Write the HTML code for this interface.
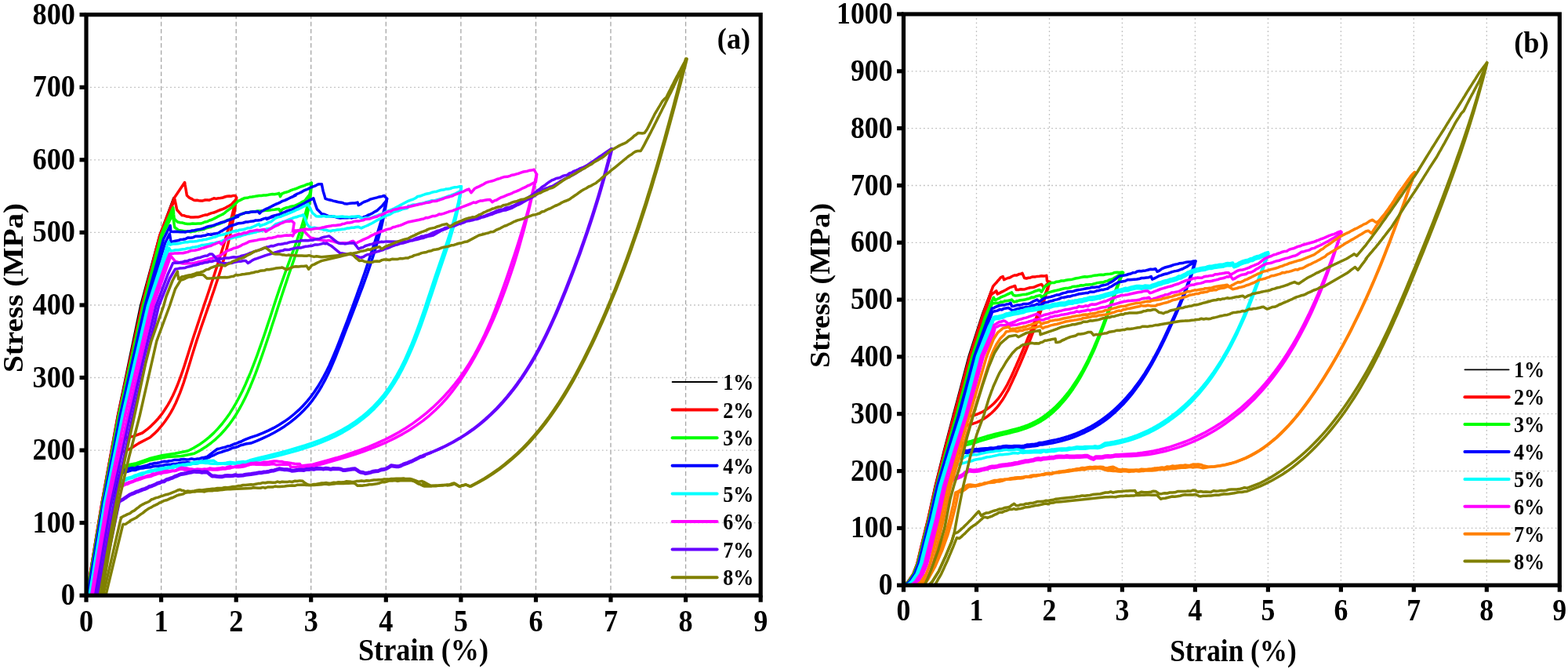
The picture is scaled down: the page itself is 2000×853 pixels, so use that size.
<!DOCTYPE html>
<html lang="en"><head><meta charset="utf-8"><title>Stress-strain curves</title>
<style>html,body{margin:0;padding:0;background:#fff}body{width:2000px;height:853px;overflow:hidden}svg{display:block}</style>
</head><body>
<svg width="2000" height="853" viewBox="0 0 2000 853" role="img" aria-label="Cyclic stress-strain curves, panels (a) and (b)">
<rect width="2000" height="853" fill="#fff"/>
<g stroke="#a6a6a6" stroke-width="1.3" stroke-dasharray="5.6 3.5" fill="none"><line x1="205.6" y1="18.7" x2="205.6" y2="759.2"/><line x1="301.2" y1="18.7" x2="301.2" y2="759.2"/><line x1="396.7" y1="18.7" x2="396.7" y2="759.2"/><line x1="492.3" y1="18.7" x2="492.3" y2="759.2"/><line x1="587.9" y1="18.7" x2="587.9" y2="759.2"/><line x1="683.5" y1="18.7" x2="683.5" y2="759.2"/><line x1="779.0" y1="18.7" x2="779.0" y2="759.2"/><line x1="874.6" y1="18.7" x2="874.6" y2="759.2"/></g>
<g stroke="#bcbcbc" stroke-width="1.3" stroke-dasharray="1.7 3.4" fill="none"><line x1="110.0" y1="666.6" x2="970.2" y2="666.6"/><line x1="110.0" y1="574.1" x2="970.2" y2="574.1"/><line x1="110.0" y1="481.5" x2="970.2" y2="481.5"/><line x1="110.0" y1="389.0" x2="970.2" y2="389.0"/><line x1="110.0" y1="296.4" x2="970.2" y2="296.4"/><line x1="110.0" y1="203.8" x2="970.2" y2="203.8"/><line x1="110.0" y1="111.3" x2="970.2" y2="111.3"/></g>
<clipPath id="clipa"><rect x="110.0" y="18.7" width="860.2" height="742.5"/></clipPath>
<g clip-path="url(#clipa)">
<polyline points="109.6,759.2 119.4,700.0 129.3,640.0 139.4,585.0 149.4,530.0 164.0,460.0 178.6,390.0 203.0,300.0 215.0,268.0 221.0,252.0" fill="none" stroke="#000000" stroke-width="1.6" stroke-linejoin="round" stroke-linecap="round"/>
<polyline points="110.5,759.2 120.3,700.0 130.3,640.0 140.4,585.0 150.5,530.0 165.7,460.0 180.8,390.0 203.8,300.0 213.5,275.0 222.5,252.0 235.6,232.6 236.1,236.0 236.7,239.3 237.3,242.6 237.8,245.9 238.4,249.2 240.1,250.8 241.9,252.3 244.2,253.3 246.6,254.9 248.9,255.6 251.3,255.3 253.6,255.8 256.0,256.0 258.8,255.9 261.6,255.0 264.4,254.9 267.2,255.2 270.0,254.0 272.8,252.8 275.7,253.4 278.5,252.8 281.3,252.5 284.1,252.0 286.9,251.0 289.7,250.3 292.5,249.9 295.1,250.2 297.7,249.4 300.3,249.5 301.8,252.3 301.0,254.0 299.4,260.7 297.8,267.4 296.1,274.1 294.3,280.8 292.5,287.5 290.6,294.1 288.7,300.8 286.8,307.4 284.8,314.0 282.7,320.7 280.7,327.3 278.6,333.9 276.5,340.5 274.3,347.1 272.2,353.7 270.0,360.3 267.8,366.9 265.6,373.5 263.4,380.0 261.1,386.6 258.9,393.2 256.7,399.8 254.5,406.5 252.3,413.1 250.1,419.7 247.9,426.3 245.7,433.0 243.6,439.6 241.5,446.3 239.4,453.0 237.3,459.6 235.2,466.3 233.0,472.9 230.7,479.4 228.3,485.9 225.8,492.3 223.1,498.6 220.3,504.8 217.2,510.8 213.9,516.6 210.3,522.3 206.4,527.9 202.2,533.2 197.6,538.2 192.7,543.1 187.4,547.7 181.6,552.0 170.6,556.1 154.0,560.0 110.8,759.2" fill="none" stroke="#ff0000" stroke-width="3.5" stroke-linejoin="round" stroke-linecap="round"/>
<polyline points="110.8,759.2 120.6,700.0 130.6,640.0 140.8,585.0 151.0,530.0 166.2,460.0 181.3,390.0 204.5,300.0 214.0,275.0 222.9,254.2 223.6,257.5 224.3,260.8 225.0,264.2 225.7,267.5 227.8,269.9 229.9,272.3 232.1,274.6 234.9,274.8 237.7,276.0 240.5,276.2 243.3,277.1 246.6,277.1 249.9,276.7 253.2,276.7 256.0,275.8 258.8,274.9 261.6,274.1 264.4,273.9 267.2,272.7 270.0,271.6 272.8,271.0 275.7,269.9 278.5,268.6 281.3,267.5 284.1,266.6 286.9,265.4 289.7,263.7 292.5,262.2 295.4,260.5 297.3,258.3 299.3,256.3 301.3,254.2 301.0,254.0 300.3,260.9 299.4,267.8 298.4,274.7 297.2,281.5 295.9,288.3 294.5,295.1 293.0,301.9 291.4,308.6 289.7,315.3 287.9,322.0 286.0,328.7 284.1,335.3 282.1,342.0 280.0,348.6 277.9,355.2 275.7,361.8 273.5,368.5 271.2,375.1 269.0,381.7 266.7,388.3 264.4,394.9 262.1,401.5 259.8,408.1 257.5,414.7 255.3,421.3 253.0,428.0 250.8,434.6 248.7,441.3 246.6,448.0 244.5,454.7 242.5,461.4 240.5,468.1 238.4,474.8 236.3,481.5 234.2,488.1 231.9,494.6 229.5,501.1 226.9,507.4 224.2,513.7 221.2,519.8 217.9,525.8 214.4,531.6 210.5,537.2 206.3,542.7 201.8,547.9 196.8,552.9 191.4,557.7 177.1,565.1 165.6,572.5 152.0,578.0 111.0,759.2" fill="none" stroke="#ff0000" stroke-width="3.5" stroke-linejoin="round" stroke-linecap="round"/>
<polyline points="111.0,759.2 120.9,700.0 131.0,640.0 141.2,585.0 151.5,530.0 167.0,460.0 182.5,390.0 205.5,300.0 214.0,280.0 220.8,264.7 221.1,267.5 221.4,270.3 221.6,273.2 221.9,276.0 222.2,278.8 224.3,280.9 226.4,283.0 229.6,283.7 232.8,284.1 235.9,285.0 239.1,285.4 242.5,285.5 245.8,285.0 249.2,285.2 252.6,284.9 256.0,285.1 258.8,284.1 261.6,282.9 264.4,282.5 267.2,281.0 270.0,280.2 272.8,278.9 275.7,277.4 278.5,275.8 281.3,274.5 284.1,273.2 286.4,271.6 288.6,269.7 290.9,268.0 293.1,266.3 295.4,264.7 297.5,262.6 299.6,260.5 301.7,258.5 303.8,256.3 306.6,255.1 309.4,253.6 312.2,252.5 315.3,252.3 318.4,251.3 321.5,251.0 324.6,250.5 327.7,249.9 330.5,249.5 333.3,249.5 336.2,249.1 339.0,248.9 341.8,248.5 344.6,247.9 347.4,247.6 350.2,247.8 353.0,247.3 355.8,246.4 356.7,248.5 357.5,250.6 358.5,248.9 359.4,247.1 362.3,245.8 365.2,245.0 368.2,244.1 371.1,242.7 374.0,241.6 377.0,240.8 379.8,239.6 382.6,238.4 385.4,237.5 388.2,236.6 391.0,235.2 394.2,234.5 397.4,233.3 397.4,233.5 396.3,241.6 394.9,249.7 393.2,257.7 391.3,265.7 389.2,273.7 386.9,281.6 384.5,289.5 381.9,297.4 379.2,305.2 376.5,313.0 373.6,320.8 370.8,328.5 367.9,336.3 365.1,344.0 362.3,351.8 359.6,359.5 356.9,367.2 354.3,374.9 351.7,382.6 349.2,390.3 346.7,398.0 344.2,405.7 341.6,413.4 339.1,421.1 336.5,428.8 333.8,436.5 331.1,444.2 328.4,451.9 325.5,459.7 322.5,467.4 319.5,475.1 316.2,482.8 312.9,490.5 309.4,498.1 305.6,505.5 301.7,512.8 297.6,519.9 293.2,526.9 288.5,533.5 283.6,540.0 278.3,546.1 272.8,551.9 266.9,557.4 260.6,562.4 254.0,567.1 246.9,571.3 239.5,575.0 223.1,578.3 206.7,580.7 190.3,584.8 173.9,590.6 162.4,593.0 149.0,597.0 111.3,759.2" fill="none" stroke="#00ff00" stroke-width="3.5" stroke-linejoin="round" stroke-linecap="round"/>
<polyline points="111.3,759.2 121.3,700.0 131.4,640.0 141.9,585.0 152.3,530.0 167.9,460.0 183.5,390.0 207.0,300.0 215.0,284.0 220.1,273.2 220.7,276.5 221.2,279.9 221.8,283.3 222.3,286.7 222.9,290.0 225.4,291.7 227.8,293.6 230.9,294.0 234.0,294.5 237.1,294.9 240.2,295.1 243.3,295.7 246.1,294.9 248.9,294.7 251.7,293.9 254.6,293.4 257.4,292.8 260.4,292.3 263.4,290.7 266.4,290.0 269.4,289.2 272.4,288.2 275.5,286.6 278.5,285.8 281.3,284.8 284.1,283.7 286.9,282.1 289.7,280.8 292.5,280.0 295.4,278.4 298.2,277.4 301.0,276.0 304.2,275.0 307.3,273.5 310.5,271.9 313.6,271.0 316.7,271.0 319.8,270.3 322.9,269.7 326.0,269.4 329.1,268.9 332.3,268.9 335.5,268.7 338.6,268.3 341.8,268.2 344.6,268.0 347.4,267.4 350.2,267.2 353.0,266.8 355.8,266.4 356.7,268.1 357.5,269.9 358.8,268.4 360.1,266.8 362.9,265.6 365.7,264.7 368.5,264.1 371.3,263.3 374.1,262.8 377.0,261.9 379.8,260.6 382.6,259.2 385.4,257.4 388.2,256.3 390.0,254.3 391.7,252.1 393.5,249.9 395.2,247.8 395.7,244.9 396.1,242.0 396.5,239.1 396.9,236.2 397.4,233.3 397.4,233.5 396.8,241.8 396.0,250.0 394.8,258.2 393.4,266.3 391.8,274.3 389.9,282.2 387.8,290.1 385.6,297.9 383.3,305.8 380.8,313.5 378.2,321.3 375.6,329.1 372.9,336.8 370.3,344.5 367.6,352.3 365.0,360.1 362.4,367.9 359.8,375.7 357.3,383.5 354.7,391.3 352.2,399.1 349.7,407.0 347.1,414.8 344.6,422.7 342.0,430.5 339.4,438.3 336.7,446.2 334.0,454.0 331.2,461.8 328.4,469.6 325.5,477.4 322.4,485.1 319.3,492.7 316.0,500.3 312.5,507.7 308.8,515.0 304.9,522.1 300.8,529.0 296.3,535.7 291.6,542.2 286.5,548.3 281.1,554.2 275.2,559.8 269.0,565.0 262.4,569.8 255.3,574.3 247.7,578.3 231.3,581.5 214.9,582.4 190.0,587.0 170.0,594.0 150.0,599.0 111.8,759.2" fill="none" stroke="#00ff00" stroke-width="3.5" stroke-linejoin="round" stroke-linecap="round"/>
<polyline points="111.8,759.2 121.7,700.0 131.8,640.0 142.5,585.0 153.2,530.0 169.1,460.0 185.0,390.0 208.5,305.0 217.1,287.6 217.4,290.2 217.6,292.7 217.8,295.3 220.9,295.4 224.0,295.2 227.1,295.4 230.2,295.8 233.3,295.6 236.1,296.0 238.9,295.1 241.7,295.0 244.6,294.1 247.4,293.9 250.2,293.1 253.0,292.6 255.8,292.1 258.6,291.5 261.4,290.4 264.3,289.2 267.1,288.4 269.9,288.1 272.7,287.3 275.5,286.2 278.3,285.2 281.1,284.0 284.0,283.2 286.8,282.7 289.6,281.3 292.4,280.5 295.2,279.4 298.0,278.5 300.8,277.0 303.6,276.3 301.0,275.3 304.2,274.3 307.3,273.1 310.5,272.3 313.6,271.0 316.7,271.0 319.8,270.3 322.9,270.0 326.0,270.1 329.1,269.6 331.2,272.0 333.3,269.6 336.4,268.0 339.5,266.3 342.6,265.1 345.7,263.5 348.8,261.9 351.6,260.5 354.4,259.4 357.3,258.1 360.1,256.4 362.9,255.6 365.7,254.3 368.5,253.0 371.3,251.6 374.1,250.5 377.0,249.2 375.2,249.3 378.1,247.7 381.0,246.5 384.0,245.2 386.9,243.4 389.8,242.2 392.8,241.0 395.7,239.4 398.6,238.2 401.0,237.3 403.3,236.3 405.7,235.0 408.0,234.8 410.3,234.7 410.9,237.6 411.5,240.5 412.1,243.4 413.1,246.8 414.1,250.1 415.0,253.4 417.4,254.1 419.7,254.8 422.1,255.2 425.0,256.1 427.9,256.8 430.9,257.5 433.8,258.1 436.9,258.5 440.0,259.8 443.2,259.9 446.4,259.3 449.6,259.1 452.8,259.0 456.1,258.1 456.6,259.9 457.2,261.6 459.6,260.5 461.9,258.8 464.3,257.5 466.9,256.6 469.5,255.7 472.2,254.1 474.8,253.4 477.9,252.6 480.9,251.9 484.0,250.9 487.0,250.4 490.1,249.5 493.6,253.4 491.7,260.7 489.8,268.0 487.8,275.3 485.8,282.6 483.7,289.8 481.5,297.1 479.3,304.4 477.0,311.7 474.7,319.0 472.3,326.3 469.9,333.6 467.5,340.9 465.0,348.2 462.4,355.5 459.9,362.9 457.2,370.2 454.6,377.5 451.9,384.9 449.2,392.3 446.4,399.6 443.7,407.0 440.9,414.4 438.0,421.8 435.2,429.2 432.3,436.6 429.4,444.0 426.3,451.4 423.2,458.7 420.0,465.9 416.6,473.0 413.0,479.9 409.2,486.7 405.2,493.3 400.9,499.8 396.4,505.9 391.5,511.8 386.4,517.5 380.9,522.9 375.2,528.0 369.2,532.8 362.9,537.3 356.3,541.5 349.5,545.4 342.5,548.9 335.2,552.2 327.7,555.1 320.0,557.7 313.4,560.2 310.6,561.4 307.7,563.0 304.9,563.8 302.1,565.1 299.3,566.0 296.5,567.1 293.7,568.4 290.4,568.9 287.1,570.3 283.8,570.9 280.5,571.9 277.3,572.5 274.6,574.5 272.0,576.4 269.4,578.3 266.8,580.4 264.1,582.4 260.8,583.1 257.6,583.7 254.3,585.0 251.0,585.1 247.7,585.7 244.4,584.9 241.1,585.7 237.9,586.0 234.6,585.5 231.3,585.7 228.2,586.5 225.1,586.5 222.1,586.6 219.0,587.4 215.9,587.7 212.8,588.5 209.8,588.2 206.7,588.9 203.6,589.7 200.5,590.3 197.5,590.5 194.4,591.2 191.3,591.7 188.2,593.3 185.1,594.0 182.1,594.7 178.8,595.4 175.5,595.2 172.2,597.1 168.9,596.5 165.7,597.1 162.8,597.8 159.9,598.9 157.0,599.5 154.2,600.4 112.5,759.2" fill="none" stroke="#0000ff" stroke-width="3.5" stroke-linejoin="round" stroke-linecap="round"/>
<polyline points="112.5,759.2 122.4,700.0 132.5,640.0 143.5,585.0 154.5,530.0 170.7,460.0 186.8,390.0 210.5,310.0 216.4,298.1 216.9,301.2 217.4,304.2 217.8,307.3 217.3,308.3 220.4,307.9 223.6,307.3 226.8,306.8 229.9,305.6 233.1,305.3 236.3,304.8 239.6,303.1 243.0,303.3 246.4,302.7 249.8,301.2 253.2,301.3 256.3,301.3 259.5,300.4 262.6,299.9 265.8,298.7 269.0,299.2 272.1,298.3 275.3,297.8 278.5,297.1 281.3,295.2 284.1,293.7 286.9,292.1 289.7,290.4 292.5,288.6 295.4,287.5 298.2,286.8 301.0,285.8 304.2,284.7 307.3,284.6 310.5,284.0 313.6,283.0 316.7,282.9 319.8,282.2 322.9,282.1 326.0,281.0 329.1,280.9 332.4,280.5 335.7,279.2 339.0,278.1 340.4,279.5 343.2,278.2 346.0,277.0 348.8,276.0 340.0,278.6 342.9,277.9 345.9,276.2 348.8,275.2 351.7,274.5 354.7,273.7 357.6,272.8 360.5,271.4 363.4,270.4 366.4,268.9 369.3,268.0 372.2,267.3 375.2,265.7 378.1,264.7 381.0,262.7 384.0,261.3 386.9,259.9 389.6,258.2 392.4,256.6 395.1,255.2 397.4,254.1 399.8,252.8 400.7,255.8 401.5,258.7 402.5,261.4 403.5,264.2 404.5,266.9 406.4,268.6 408.4,270.7 410.3,272.8 413.3,273.2 416.2,274.3 419.1,275.6 422.1,275.7 425.0,276.0 427.9,276.6 430.9,277.6 433.8,278.0 436.7,277.7 439.6,277.6 442.6,277.7 445.5,277.4 448.4,277.9 451.4,276.8 454.3,276.9 457.2,276.0 459.6,276.9 461.9,278.0 464.3,276.5 466.6,276.0 469.0,274.5 471.9,273.4 474.8,272.0 477.7,270.1 480.7,268.7 483.0,266.5 485.4,264.3 487.7,262.2 489.3,260.2 490.8,258.3 492.4,256.3 493.6,253.4 492.4,261.0 491.0,268.6 489.5,276.1 487.8,283.6 486.1,291.2 484.1,298.6 482.1,306.1 479.9,313.6 477.7,321.1 475.3,328.5 472.9,336.0 470.4,343.4 467.8,350.9 465.1,358.3 462.4,365.8 459.6,373.2 456.8,380.7 454.0,388.2 451.1,395.6 448.2,403.1 445.3,410.7 442.3,418.2 439.4,425.7 436.5,433.3 433.6,440.9 430.6,448.4 427.6,456.0 424.5,463.4 421.3,470.8 417.9,478.0 414.3,485.1 410.5,492.0 406.5,498.8 402.2,505.3 397.6,511.6 392.7,517.6 387.4,523.3 381.8,528.8 375.9,533.9 369.6,538.8 363.2,543.4 356.4,547.7 349.5,551.7 342.3,555.5 335.0,558.9 327.6,562.2 320.0,565.1 313.4,566.0 310.1,567.0 306.8,567.8 303.5,569.4 300.2,570.6 297.0,571.0 293.7,572.5 290.7,573.8 287.8,574.5 284.8,575.5 281.9,576.6 278.9,577.4 275.9,578.7 273.0,580.3 270.0,581.3 267.1,583.1 264.1,584.0 261.3,585.7 258.4,587.6 255.5,588.6 252.6,590.6 249.4,590.9 246.1,590.8 242.8,590.2 239.5,589.8 236.4,590.1 233.4,590.0 230.3,590.3 227.2,591.0 224.1,591.4 221.0,591.4 218.0,592.5 214.9,592.2 211.6,592.6 208.3,593.2 205.0,593.7 201.8,594.2 198.5,594.3 195.2,594.7 191.9,595.8 188.6,596.0 185.3,596.3 182.1,597.1 178.8,597.3 175.5,598.3 172.2,599.5 168.9,599.4 165.7,600.4 162.8,601.2 159.9,602.1 157.0,602.8 154.2,602.9 114.0,759.2" fill="none" stroke="#0000ff" stroke-width="3.5" stroke-linejoin="round" stroke-linecap="round"/>
<polyline points="114.0,759.2 123.7,700.0 133.5,640.0 144.8,585.0 156.0,530.0 172.2,460.0 188.5,390.0 209.5,325.0 215.0,308.0 216.1,310.1 217.1,312.2 220.4,311.1 223.6,311.0 226.8,310.8 230.1,310.0 233.3,309.4 236.3,308.7 239.3,308.7 242.3,307.9 245.4,308.1 248.4,307.8 251.4,307.4 254.4,306.6 257.2,306.3 260.0,305.5 262.8,305.2 265.7,304.4 268.5,303.8 271.3,302.8 274.1,302.3 276.9,301.1 279.7,299.9 282.5,299.5 285.4,299.1 288.2,297.7 291.0,297.2 293.8,296.3 296.6,295.3 299.4,294.6 302.2,294.6 305.1,293.3 307.9,292.9 310.7,292.5 313.5,291.7 316.3,290.7 319.1,290.6 321.9,289.5 324.7,288.3 327.6,286.9 330.4,285.5 331.8,288.3 334.6,286.9 337.4,286.1 340.2,284.9 343.0,283.4 345.8,282.7 351.7,278.0 354.7,276.9 357.6,276.4 360.5,275.0 363.4,273.9 366.4,272.8 369.3,271.7 372.2,270.3 375.2,269.2 378.1,267.5 381.0,266.5 384.0,265.0 386.9,263.4 389.8,262.2 392.8,260.4 393.9,262.5 395.1,264.5 396.3,266.9 397.4,269.3 398.6,271.6 401.0,273.5 403.3,275.7 406.5,275.9 409.8,276.0 413.0,275.4 416.2,276.3 419.1,276.0 422.1,276.1 425.0,275.6 427.9,276.3 430.9,276.5 433.8,276.3 436.7,276.1 439.6,276.5 442.6,276.4 445.5,276.9 448.4,276.2 451.4,276.3 454.3,275.9 457.2,275.7 459.0,276.8 460.8,278.0 463.6,278.4 466.4,277.8 469.2,277.9 472.0,278.0 474.8,277.4 477.7,276.0 480.7,275.3 483.6,273.7 486.5,272.8 489.7,271.5 492.9,269.8 496.0,268.7 499.2,267.4 502.4,266.1 520.7,256.3 523.7,255.1 526.7,254.3 529.7,252.8 532.7,250.5 535.8,250.1 538.8,248.8 541.8,247.8 544.8,247.0 547.8,246.5 550.8,245.3 553.8,244.6 556.9,244.2 559.9,243.1 562.9,242.2 565.7,242.1 568.5,241.1 571.3,241.0 574.1,240.5 577.0,239.4 580.2,238.7 583.5,238.4 586.8,237.7 588.2,237.7 586.6,247.8 584.7,257.7 582.4,267.5 579.9,277.2 577.2,286.8 574.3,296.3 571.2,305.9 568.0,315.3 564.7,324.8 561.4,334.4 558.1,343.9 554.8,353.6 551.6,363.3 548.4,373.1 545.1,382.9 541.9,392.7 538.5,402.5 535.1,412.3 531.5,422.0 527.9,431.7 524.0,441.3 519.9,450.7 515.7,460.1 511.1,469.3 506.3,478.2 501.1,487.0 495.6,495.4 489.6,503.4 483.2,511.0 476.4,518.3 469.1,525.1 461.5,531.5 453.5,537.4 445.1,543.0 436.4,548.1 427.4,552.8 418.1,557.1 408.6,561.1 398.8,564.7 389.0,568.0 379.0,571.0 369.1,573.9 359.1,576.6 349.1,579.1 339.3,581.6 329.5,584.0 320.0,586.5 313.4,588.9 310.1,588.6 306.8,588.9 303.5,589.2 300.2,590.3 297.0,589.8 293.7,589.3 290.4,589.7 287.1,590.6 283.8,590.7 280.5,590.7 277.3,590.6 274.8,588.9 272.3,587.3 269.1,587.4 265.8,587.5 262.5,587.6 259.2,588.2 255.9,588.1 252.6,589.1 249.4,589.2 246.1,589.8 242.8,591.2 239.5,591.4 236.4,592.2 233.4,592.2 230.3,593.0 227.2,593.1 224.1,594.2 221.0,594.1 218.0,595.4 214.9,595.5 211.8,596.2 208.7,596.8 205.7,597.3 202.6,597.8 199.5,598.3 196.4,599.2 193.3,599.7 190.3,600.4 187.2,601.6 184.1,602.8 181.0,603.3 178.0,604.1 174.9,605.4 171.8,606.2 168.7,607.9 165.7,608.6 163.0,609.5 160.4,610.5 157.8,612.2 155.1,613.2 152.5,614.4 115.0,759.2" fill="none" stroke="#00ffff" stroke-width="3.5" stroke-linejoin="round" stroke-linecap="round"/>
<polyline points="115.0,759.2 124.7,700.0 134.5,640.0 145.9,585.0 157.3,530.0 173.8,460.0 190.3,390.0 210.5,330.0 215.7,316.4 216.8,318.2 217.8,319.9 220.9,319.4 224.0,318.7 227.1,318.8 230.2,318.3 233.3,317.8 236.3,317.4 239.3,316.5 242.3,316.4 245.4,315.3 248.4,315.1 251.4,314.6 254.4,313.6 257.2,312.6 260.0,312.5 262.8,312.0 265.7,311.6 268.5,310.8 271.3,310.2 274.1,309.9 276.9,308.9 279.7,308.7 283.0,307.4 286.3,305.9 289.6,305.2 292.4,304.4 295.2,303.9 298.0,302.6 300.8,302.4 303.6,301.7 306.5,301.2 309.3,300.0 312.1,299.4 314.9,298.3 317.7,298.1 320.5,297.2 323.3,296.6 326.2,296.1 329.0,294.7 331.8,294.6 334.6,294.0 337.4,293.4 340.2,291.8 343.0,291.5 345.8,291.1 351.7,285.7 354.7,285.0 357.6,284.0 360.5,282.8 363.4,282.1 366.4,280.9 369.3,279.7 372.2,278.7 375.2,277.4 378.1,276.8 381.0,275.6 384.0,275.0 386.9,273.9 388.1,276.3 389.2,278.6 390.0,281.0 390.8,283.3 391.6,285.7 393.3,287.7 395.1,289.8 398.2,290.7 401.4,290.1 404.5,290.9 407.4,291.5 410.3,291.9 413.3,293.2 416.2,293.3 419.1,294.2 422.1,294.4 425.0,293.8 427.9,293.5 430.9,292.9 433.8,292.7 436.7,292.3 439.6,292.0 442.6,291.1 445.5,290.9 448.4,290.2 451.4,290.3 454.3,289.5 457.2,289.2 459.0,290.2 460.8,290.9 463.5,289.6 466.2,288.5 469.0,287.4 471.9,285.8 474.8,284.5 477.7,282.8 480.7,281.0 483.6,279.5 486.5,278.0 489.5,276.4 492.4,275.1 495.3,274.2 498.3,272.8 501.2,271.0 504.1,269.8 507.3,269.1 510.5,267.8 513.6,266.5 516.8,266.0 520.0,265.1 520.7,262.6 523.7,262.2 526.7,261.1 529.7,261.1 532.7,260.5 535.8,259.7 538.8,259.1 541.8,258.4 544.8,257.4 547.8,256.8 550.8,255.7 553.8,255.9 556.9,255.0 559.9,254.2 562.9,253.5 565.7,252.4 568.5,251.6 571.3,250.3 574.1,249.6 577.0,248.5 579.7,247.5 582.4,246.0 585.2,244.7 587.9,243.6 588.5,237.7 587.3,247.9 585.7,258.0 583.8,267.9 581.5,277.8 579.0,287.5 576.2,297.3 573.3,306.9 570.2,316.6 567.0,326.2 563.7,335.9 560.4,345.6 557.1,355.4 553.9,365.2 550.6,375.1 547.3,385.0 544.0,394.9 540.6,404.7 537.1,414.6 533.5,424.3 529.7,434.0 525.8,443.6 521.6,453.1 517.3,462.5 512.7,471.7 507.8,480.7 502.6,489.4 497.0,497.8 491.0,505.9 484.6,513.6 477.7,520.9 470.4,527.8 462.7,534.2 454.6,540.3 446.2,545.9 437.5,551.1 428.4,555.9 419.1,560.2 409.5,564.2 399.7,567.9 389.7,571.2 379.7,574.3 369.6,577.1 359.5,579.8 349.5,582.2 339.5,584.6 329.7,586.8 320.0,588.9 313.4,590.2 310.1,590.0 306.8,590.6 303.5,590.0 300.2,591.3 297.0,590.9 293.7,591.6 290.4,591.5 287.1,591.5 283.8,590.9 280.5,591.3 277.3,591.6 274.2,591.3 271.2,591.2 268.1,590.9 265.1,590.5 262.0,590.5 259.0,590.0 255.9,589.8 252.6,590.7 249.4,590.9 246.1,591.2 242.8,592.3 239.5,592.5 236.4,593.3 233.4,593.4 230.3,594.7 227.2,594.8 224.1,595.2 221.0,596.4 218.0,596.2 214.9,596.8 211.8,597.9 208.7,598.2 205.7,599.0 202.6,599.8 199.5,600.2 196.4,599.8 193.3,601.2 190.3,601.7 187.2,602.2 184.1,603.5 181.0,605.4 178.0,605.8 174.9,606.5 171.8,608.1 168.7,609.5 165.7,609.9 163.0,610.8 160.4,612.1 157.8,613.5 155.1,614.3 152.5,615.7 116.5,759.2" fill="none" stroke="#00ffff" stroke-width="3.5" stroke-linejoin="round" stroke-linecap="round"/>
<polyline points="116.5,759.2 126.3,700.0 136.3,640.0 147.9,585.0 159.5,530.0 176.0,460.0 192.5,390.0 211.0,337.0 216.4,323.5 219.8,323.5 223.2,322.9 226.6,323.0 229.9,322.8 233.3,322.8 236.3,322.0 239.3,321.4 242.3,320.1 245.4,319.4 248.4,319.2 251.4,318.6 254.4,317.8 257.2,316.6 260.0,316.0 262.8,315.0 265.7,314.1 268.5,313.6 271.3,312.2 274.1,311.2 276.9,310.0 279.7,308.7 281.1,310.2 282.5,311.5 284.9,308.9 287.2,306.4 289.6,303.8 292.5,302.8 295.4,301.3 298.3,300.5 301.3,299.5 304.6,298.5 308.0,298.4 311.3,296.8 314.7,296.9 318.0,295.1 321.4,294.6 324.7,293.9 327.9,293.2 331.1,293.8 334.2,292.9 337.4,292.5 338.8,295.3 351.7,288.0 354.7,286.9 357.6,285.1 360.5,284.1 363.4,282.7 366.2,282.2 368.9,282.2 371.7,281.5 373.4,282.8 375.2,284.5 374.7,287.1 374.3,289.8 373.9,292.4 373.4,295.0 376.0,294.1 378.7,293.9 381.4,293.5 384.2,293.0 386.9,292.7 389.8,292.0 392.8,292.4 395.7,292.6 398.6,292.1 401.5,291.5 404.5,291.2 407.4,291.2 410.3,290.3 413.3,289.7 416.2,289.0 419.1,288.5 422.1,288.0 425.0,287.4 427.9,287.4 430.9,287.1 433.8,286.8 436.7,285.6 439.6,285.2 442.6,284.1 445.5,283.9 448.4,283.6 451.4,282.4 454.3,281.9 457.2,282.1 460.2,281.4 463.1,280.9 466.0,279.4 469.0,279.2 471.9,279.0 474.8,277.7 477.7,276.9 480.7,276.3 483.6,274.7 486.5,273.8 489.5,272.4 492.4,271.0 495.3,269.6 498.3,269.6 501.2,267.6 504.1,266.9 507.3,266.4 510.5,265.3 513.6,265.1 516.8,264.5 520.0,264.0 534.7,260.5 537.6,260.1 540.4,259.4 543.2,258.5 546.0,258.3 548.8,257.7 551.6,256.6 554.4,256.4 557.3,256.2 560.1,255.2 562.9,254.2 565.7,253.3 568.5,251.9 571.3,251.5 574.1,250.6 577.0,249.9 579.8,248.3 582.6,247.4 585.4,246.3 588.2,245.2 591.0,244.3 593.4,242.9 595.7,242.0 598.1,241.1 599.5,243.4 600.9,245.7 603.0,243.4 605.1,240.8 605.3,240.5 608.1,239.0 610.9,237.9 613.8,236.4 616.6,235.0 619.4,233.2 622.2,232.1 625.0,231.4 627.8,230.7 630.6,229.9 633.9,228.5 637.2,227.6 640.5,226.4 643.8,225.4 647.1,225.3 650.3,224.3 653.2,223.2 656.0,222.7 658.8,221.9 661.6,221.2 664.4,220.1 667.8,219.0 671.2,218.6 674.5,217.6 677.9,217.1 681.3,216.3 684.4,222.2 682.2,232.6 679.8,243.0 677.2,253.3 674.6,263.6 671.8,273.9 668.9,284.1 665.8,294.3 662.7,304.4 659.5,314.6 656.2,324.8 652.8,334.9 649.4,345.1 645.9,355.3 642.3,365.5 638.7,375.7 634.9,385.9 631.1,396.0 627.1,406.1 622.9,416.0 618.5,425.9 613.9,435.6 609.0,445.1 603.9,454.5 598.4,463.6 592.7,472.5 586.5,481.2 580.1,489.5 573.4,497.6 566.3,505.5 558.9,513.0 551.3,520.2 543.3,527.1 535.0,533.7 526.5,539.9 517.7,545.8 508.6,551.3 499.2,556.4 489.6,561.2 479.8,565.6 469.8,569.8 459.8,573.6 449.6,577.2 439.4,580.6 429.1,583.8 418.9,586.7 408.8,589.5 398.8,592.2 384.0,593.9 382.4,591.4 379.1,591.4 375.8,591.2 372.5,590.8 369.2,590.3 366.0,589.8 362.7,589.6 359.4,588.5 356.1,588.5 352.8,588.1 349.5,588.0 346.3,588.4 343.0,589.0 339.7,589.3 336.4,589.2 333.1,590.2 329.8,590.3 326.6,590.1 323.3,590.5 320.0,590.6 313.4,593.0 310.1,592.7 306.8,593.7 303.5,594.0 300.2,594.9 297.0,595.9 293.7,594.6 290.4,595.4 287.1,596.8 283.8,596.3 280.5,597.1 277.3,597.2 274.0,597.7 270.7,597.4 267.4,597.1 264.1,598.2 260.8,598.1 257.6,598.4 254.3,598.2 251.0,598.1 247.7,598.8 244.4,598.0 241.1,597.7 237.9,597.0 234.6,596.7 231.3,596.3 228.6,597.4 225.8,598.9 223.1,600.4 220.4,600.1 217.6,600.3 214.9,600.4 211.6,600.6 208.3,601.3 205.0,602.3 201.8,602.9 198.5,603.7 195.2,604.1 191.9,605.9 188.6,606.4 185.3,607.7 182.1,608.6 178.8,609.5 175.5,610.7 172.2,612.0 168.9,613.7 165.7,614.4 162.7,615.7 159.7,616.9 156.8,617.7 153.8,618.9 150.9,620.1 119.0,759.2" fill="none" stroke="#ff00ff" stroke-width="3.5" stroke-linejoin="round" stroke-linecap="round"/>
<polyline points="119.0,759.2 129.1,700.0 139.3,640.0 151.2,585.0 163.0,530.0 179.2,460.0 195.5,390.0 213.0,340.0 217.8,326.3 219.7,328.6 221.6,330.9 223.5,333.3 226.7,334.2 230.0,335.2 233.3,336.1 236.1,336.0 238.9,335.7 241.7,335.7 244.6,335.9 247.4,335.4 250.2,334.8 253.0,333.8 255.8,333.6 258.6,332.6 261.4,331.9 264.3,331.1 267.1,330.3 269.9,329.5 272.7,328.3 275.5,327.7 277.9,326.6 280.2,325.9 282.5,324.9 284.9,323.2 287.2,321.5 289.6,319.9 292.4,318.9 295.2,318.0 298.0,316.5 300.8,316.0 303.6,315.0 306.5,313.7 309.3,311.9 312.1,310.9 314.9,309.7 317.7,308.0 320.5,307.5 323.3,307.0 326.2,306.6 329.0,305.9 331.8,305.2 340.0,304.4 342.9,303.4 345.9,303.6 348.8,302.8 351.7,302.1 354.7,300.9 357.6,301.2 360.5,300.8 363.4,300.3 366.0,299.9 368.5,300.2 371.1,299.7 373.4,300.9 374.3,299.1 375.2,297.4 378.1,295.4 381.0,293.9 384.0,293.9 386.9,293.3 388.7,295.3 390.4,297.4 392.4,299.4 394.3,301.3 396.3,303.2 399.1,303.8 401.9,304.4 404.7,305.5 407.5,305.7 410.3,306.2 413.3,306.5 416.2,307.2 419.1,306.4 422.1,307.3 425.0,307.7 427.9,308.8 430.9,309.2 433.8,310.3 436.7,309.8 439.6,309.8 442.6,309.9 445.5,309.1 447.9,308.0 450.2,307.3 452.0,308.9 453.7,310.3 455.5,309.5 457.2,308.5 460.2,307.1 463.1,305.6 466.0,304.3 469.0,303.2 471.9,301.4 474.8,299.9 477.7,298.7 480.7,297.4 483.6,296.0 486.5,295.0 489.5,294.2 492.4,292.7 495.3,292.1 498.3,291.5 501.2,289.8 504.1,289.2 507.3,288.2 510.5,287.4 513.6,286.1 516.8,284.6 520.0,283.3 534.7,280.2 537.6,279.5 540.4,279.0 543.2,277.6 546.0,277.7 548.8,276.7 551.6,275.6 554.4,275.6 557.3,274.7 560.1,273.1 562.9,273.2 565.7,272.3 568.5,271.3 571.3,270.4 574.1,269.4 577.0,268.9 579.8,267.6 582.6,266.6 585.4,265.7 588.2,264.3 591.0,263.3 601.1,259.5 603.9,258.0 606.7,258.6 609.5,257.1 612.4,256.1 615.2,256.0 618.5,255.3 621.7,254.7 625.0,254.6 626.4,255.9 627.8,257.7 630.6,255.9 633.5,255.0 636.3,253.3 639.1,251.7 641.9,250.9 644.7,249.7 647.5,248.4 650.3,247.5 653.2,246.3 656.0,244.8 658.8,243.9 661.6,242.7 664.4,241.2 667.2,239.8 670.0,238.7 672.8,237.0 675.7,235.9 678.5,234.2 680.9,233.0 683.4,232.1 684.7,222.2 682.6,232.5 680.3,242.8 678.0,253.1 675.6,263.5 673.1,273.9 670.5,284.3 667.8,294.7 664.9,305.1 662.0,315.6 658.9,326.0 655.7,336.4 652.3,346.7 648.8,357.0 645.2,367.2 641.4,377.4 637.5,387.5 633.4,397.6 629.2,407.5 624.8,417.4 620.2,427.1 615.4,436.7 610.5,446.2 605.3,455.6 600.0,464.8 594.5,473.8 588.7,482.7 582.7,491.3 576.4,499.7 569.8,507.8 562.8,515.5 555.5,522.8 547.7,529.8 539.6,536.3 531.1,542.4 522.3,548.2 513.2,553.6 503.7,558.6 494.1,563.3 484.1,567.6 474.1,571.7 463.8,575.5 453.5,579.0 443.2,582.3 432.8,585.4 422.5,588.4 412.2,591.2 402.1,593.9 385.7,595.5 382.7,595.1 379.7,594.9 376.8,595.6 373.8,595.5 370.9,595.5 370.1,593.9 369.2,592.2 366.0,592.3 362.7,592.1 359.4,592.2 356.1,592.4 352.8,592.8 349.5,591.7 346.3,591.8 343.0,592.3 339.7,592.5 336.4,592.6 333.1,592.2 329.8,592.3 326.6,592.3 323.3,591.8 320.0,592.2 313.4,594.2 310.1,595.0 306.8,595.5 303.5,595.8 300.2,595.5 297.0,595.4 293.7,596.9 290.4,597.2 287.1,598.0 283.8,598.0 280.5,598.5 277.3,599.1 274.0,598.8 270.7,598.9 267.4,598.4 264.1,599.6 260.8,600.1 257.6,599.6 254.3,599.4 251.0,599.2 247.7,600.1 244.4,599.6 241.1,599.6 237.9,599.2 234.6,598.9 231.3,598.0 228.0,598.7 224.7,600.0 221.5,600.4 218.2,601.0 214.9,601.7 211.6,602.6 208.3,602.8 205.0,603.7 201.8,603.8 198.5,605.0 195.2,606.1 191.9,607.6 188.6,607.9 185.3,608.7 182.1,609.9 178.8,611.0 175.5,612.2 172.2,613.2 168.9,614.7 165.7,615.7 162.7,617.2 159.7,617.9 156.8,619.6 153.8,620.4 150.9,621.4 121.5,759.2" fill="none" stroke="#ff00ff" stroke-width="3.5" stroke-linejoin="round" stroke-linecap="round"/>
<polyline points="121.5,759.2 131.7,700.0 142.0,640.0 154.0,585.0 166.0,530.0 182.5,460.0 199.0,390.0 214.0,350.0 220.6,335.4 223.8,334.9 227.0,335.2 230.1,334.5 233.3,334.0 236.1,332.9 238.9,332.9 241.7,331.6 244.6,331.5 247.4,330.5 250.2,329.4 253.0,328.8 255.8,328.2 258.6,327.2 261.4,326.3 264.5,325.9 267.5,324.1 270.6,323.9 272.3,325.7 274.1,327.7 275.5,329.1 276.9,330.5 280.1,329.7 283.2,330.1 286.4,329.0 289.6,329.1 292.4,328.9 295.2,328.3 298.0,327.8 300.8,328.0 303.6,327.7 306.0,327.1 308.3,326.2 310.7,325.6 313.5,324.9 316.3,323.9 319.1,322.7 321.9,321.7 324.7,320.6 327.6,319.6 330.4,318.9 333.2,317.9 336.0,316.6 338.8,315.7 340.0,315.0 342.9,314.7 345.9,313.5 348.8,313.7 351.7,312.6 354.7,311.6 357.6,311.5 360.5,311.1 363.4,310.3 366.4,309.9 369.3,308.9 372.2,308.4 375.2,307.9 378.1,307.8 381.0,307.8 384.0,306.5 386.9,306.8 389.8,306.4 392.8,306.7 395.7,306.2 398.6,306.2 401.5,305.4 404.5,304.7 407.4,304.5 410.3,303.2 413.5,302.2 416.6,301.6 419.7,300.9 422.1,302.6 424.4,304.4 426.8,306.3 429.1,308.2 431.4,309.7 434.2,310.5 436.9,310.4 439.6,310.9 442.6,310.5 445.5,310.1 448.4,310.0 451.4,309.7 453.3,312.2 455.3,314.7 457.2,317.3 460.2,316.0 463.1,315.4 466.0,313.5 469.0,312.6 471.9,311.8 474.8,311.1 477.7,310.0 480.7,309.1 483.6,308.9 486.5,308.2 489.5,308.4 492.4,307.9 506.6,308.3 509.4,308.3 512.2,307.9 515.1,307.4 517.9,308.4 520.7,307.6 523.5,306.4 526.3,306.1 529.1,304.6 531.9,303.4 534.7,302.7 537.6,301.2 540.4,301.3 543.2,300.1 546.0,299.6 548.8,298.5 551.6,297.0 554.4,295.9 557.3,294.5 560.1,294.0 562.9,292.8 565.7,291.9 568.5,290.4 571.3,290.0 574.1,288.3 577.0,287.2 580.0,286.9 582.8,285.5 585.6,284.5 588.4,284.0 591.3,282.8 594.1,281.3 596.9,281.3 599.7,279.9 602.5,279.7 605.3,278.8 608.1,278.5 610.9,277.4 613.8,276.4 616.6,275.9 619.4,274.9 622.2,273.6 625.0,272.6 627.8,271.3 630.6,270.4 633.5,268.9 636.3,267.9 639.1,267.2 641.9,266.9 644.7,265.3 647.5,264.6 650.3,264.4 653.2,262.8 656.0,261.9 658.8,260.3 661.6,258.9 664.4,257.4 667.2,255.7 670.0,254.2 672.8,252.5 675.7,250.5 678.5,248.9 680.8,247.2 683.2,245.1 685.5,243.0 687.9,241.5 690.2,239.5 692.5,237.7 695.4,235.9 698.2,233.7 701.0,231.7 703.8,229.9 706.6,228.8 709.4,227.5 712.2,227.1 715.1,226.1 717.9,224.4 720.7,223.6 723.5,223.1 726.3,221.0 729.1,220.1 731.9,218.3 734.7,217.3 737.6,216.1 740.4,214.6 743.2,213.7 746.0,212.3 748.8,210.9 751.6,208.9 754.4,207.0 757.3,205.2 760.1,203.1 762.9,201.1 765.7,199.2 768.5,197.5 771.3,195.4 774.1,193.5 777.0,191.7 779.8,189.8 779.7,189.8 777.2,199.7 774.5,209.5 771.9,219.3 769.2,228.9 766.4,238.6 763.6,248.2 760.7,257.7 757.7,267.2 754.7,276.7 751.6,286.1 748.5,295.5 745.2,305.0 741.9,314.4 738.6,323.8 735.1,333.2 731.6,342.6 728.0,352.0 724.3,361.5 720.6,371.0 716.7,380.5 712.8,390.0 708.8,399.5 704.6,408.9 700.3,418.3 695.8,427.7 691.2,436.9 686.4,446.1 681.4,455.1 676.2,464.0 670.8,472.7 665.2,481.3 659.3,489.6 653.2,497.7 646.8,505.6 640.2,513.3 633.3,520.7 626.1,527.8 618.7,534.6 611.0,541.1 603.0,547.3 594.7,553.1 586.1,558.6 577.2,563.7 568.1,568.5 558.8,572.9 549.2,577.0 539.5,580.7 541.6,579.9 538.8,581.1 536.1,581.8 533.4,583.2 530.6,584.7 527.9,586.0 525.2,587.3 522.4,588.4 519.7,589.6 517.0,590.5 514.2,591.5 511.5,593.0 508.7,593.9 505.5,594.0 502.2,593.5 498.9,593.0 496.7,594.5 494.5,595.8 492.3,597.1 489.1,597.7 485.8,598.2 482.5,599.8 479.2,600.1 475.9,600.4 472.6,601.6 469.4,602.3 466.1,602.9 462.8,601.7 459.5,601.2 457.3,600.0 455.1,598.4 452.9,597.1 449.7,597.2 446.4,597.8 443.1,598.2 439.8,598.8 437.4,598.7 434.9,597.5 431.6,596.9 428.3,596.9 425.0,596.8 421.8,597.6 418.5,596.8 415.4,596.5 412.4,597.2 409.3,596.6 406.3,596.8 403.2,596.7 400.2,597.6 397.1,597.1 394.1,597.7 391.0,597.7 387.9,598.7 384.8,598.4 381.8,598.2 378.7,598.7 375.6,599.3 372.5,599.6 369.2,598.4 366.0,598.1 362.7,598.1 359.4,597.4 356.1,597.1 352.8,598.1 349.5,599.2 346.3,599.5 343.0,600.4 339.7,600.9 336.4,601.2 333.1,602.1 329.8,602.1 326.6,602.8 323.3,603.2 320.0,603.7 313.4,604.5 310.1,605.2 306.8,605.4 303.5,605.7 300.2,605.0 297.0,605.7 293.7,606.0 290.4,605.8 287.1,606.0 283.8,606.9 280.5,607.0 277.3,606.8 274.0,606.2 270.7,606.2 268.5,604.7 266.3,603.0 264.1,601.2 260.8,601.0 257.6,601.5 254.3,600.7 251.0,600.7 247.7,600.4 244.4,601.2 241.1,601.7 237.9,602.6 234.6,603.2 231.3,603.7 228.6,604.7 225.8,606.0 223.1,606.7 220.4,608.3 217.6,609.2 214.9,610.3 212.2,610.9 209.4,613.0 206.7,613.3 203.9,614.7 201.2,615.4 198.5,616.8 195.7,618.0 193.0,619.1 190.3,619.8 187.5,621.4 184.8,622.6 182.1,623.4 179.3,624.5 176.6,625.7 173.9,626.4 171.1,627.9 168.4,628.9 165.7,630.0 162.9,631.9 160.2,633.7 157.4,635.7 154.8,637.0 152.2,638.5 124.5,759.2" fill="none" stroke="#6600ff" stroke-width="3.5" stroke-linejoin="round" stroke-linecap="round"/>
<polyline points="124.5,759.2 135.2,700.0 146.0,640.0 157.8,585.0 169.5,530.0 186.0,460.0 202.5,390.0 216.5,355.0 223.5,343.2 226.7,342.6 230.0,341.9 233.3,341.7 236.1,341.4 238.9,340.4 241.7,339.8 244.6,339.1 247.4,338.2 250.2,337.7 253.0,337.0 255.8,335.9 258.6,335.7 261.4,334.7 264.3,334.6 267.1,333.4 269.9,333.5 272.7,332.5 275.5,331.9 277.9,333.1 280.2,334.0 282.5,335.4 284.9,335.7 287.2,335.7 289.6,336.1 292.4,335.3 295.2,335.5 298.0,334.5 300.8,334.1 303.6,333.3 306.9,333.2 310.2,332.6 313.5,332.6 314.9,334.0 316.3,335.4 319.1,333.9 321.9,331.9 324.7,330.5 327.6,329.6 330.4,328.6 333.2,327.7 336.0,326.7 338.8,325.6 357.6,320.0 360.5,319.6 363.4,318.2 366.4,318.5 369.3,318.2 372.2,317.4 375.2,316.7 378.1,316.1 381.0,315.7 384.0,315.9 386.9,315.0 389.8,314.3 392.8,314.0 395.7,313.5 398.6,313.2 401.5,312.1 404.5,312.1 407.4,311.6 410.3,310.9 412.7,310.0 415.0,310.8 417.4,310.3 419.7,312.0 422.1,313.2 424.4,315.0 433.9,322.9 437.3,323.1 440.7,323.7 444.0,324.2 447.4,324.3 450.1,325.1 452.8,326.1 455.5,326.8 458.2,327.9 460.9,328.3 463.6,327.5 466.3,325.6 469.0,324.5 471.7,324.4 474.4,322.9 477.1,322.2 479.8,321.1 482.5,320.5 485.2,319.5 487.9,318.9 490.6,317.4 493.2,316.9 495.9,315.8 498.6,314.7 501.3,313.5 504.5,312.4 507.6,311.7 510.8,310.4 513.9,310.1 517.1,309.1 520.2,308.1 523.4,307.0 526.7,306.7 529.9,305.7 533.2,305.0 536.4,304.0 539.6,303.6 542.9,302.2 546.1,301.4 549.3,300.8 552.6,300.0 562.9,294.0 565.7,292.8 568.5,291.9 571.3,290.5 574.1,289.2 577.0,288.6 580.0,288.0 582.8,286.7 585.6,285.5 588.4,284.7 591.3,283.9 594.1,282.4 596.9,281.7 599.7,281.4 602.5,280.8 605.3,279.8 608.1,279.6 610.9,278.7 613.8,277.3 616.6,276.8 619.4,275.8 622.2,275.0 625.0,273.8 627.8,273.2 630.6,272.0 633.5,270.8 636.3,270.0 639.1,269.2 641.9,268.3 644.7,268.0 647.5,267.0 650.3,266.1 653.2,265.0 656.0,263.4 658.8,261.9 661.6,260.8 664.4,259.5 667.2,257.7 670.0,256.2 672.8,254.6 675.7,253.2 678.5,251.7 681.3,250.1 684.1,248.0 686.9,246.0 689.7,244.1 692.5,241.9 695.4,240.5 698.2,239.8 701.0,238.5 703.8,237.8 706.6,236.3 709.4,234.5 712.2,232.9 715.1,230.8 717.9,229.5 720.7,227.8 723.5,226.7 726.3,224.7 729.1,224.0 731.9,222.5 734.7,220.8 737.6,218.9 740.4,217.3 743.2,215.3 746.0,213.0 748.8,211.7 751.6,209.6 754.4,207.5 757.3,205.6 760.1,203.7 762.9,201.8 765.7,199.9 768.5,197.8 771.3,196.0 774.1,193.8 777.0,191.8 779.8,189.8 780.8,189.8 778.3,199.7 775.6,209.5 773.0,219.3 770.3,228.9 767.5,238.6 764.7,248.2 761.8,257.7 758.8,267.2 755.8,276.7 752.7,286.1 749.6,295.5 746.3,305.0 743.0,314.4 739.7,323.8 736.2,333.2 732.7,342.6 729.1,352.0 725.4,361.5 721.7,371.0 717.8,380.5 713.9,390.0 709.9,399.5 705.7,408.9 701.4,418.3 696.9,427.7 692.3,436.9 687.5,446.1 682.5,455.1 677.3,464.0 671.9,472.7 666.3,481.3 660.4,489.6 654.3,497.7 647.9,505.6 641.3,513.3 634.4,520.7 627.2,527.8 619.8,534.6 612.1,541.1 604.1,547.3 595.8,553.1 587.2,558.6 578.3,563.7 569.2,568.5 559.9,572.9 550.3,577.0 540.6,580.7 541.6,581.4 538.8,582.6 536.1,583.3 533.4,584.7 530.6,586.2 527.9,587.5 525.2,588.8 522.4,589.9 519.7,591.1 517.0,592.0 514.2,593.0 511.5,594.5 508.7,595.4 505.5,595.5 502.2,595.0 498.9,594.5 496.7,596.0 494.5,597.3 492.3,598.6 489.1,599.2 485.8,599.7 482.5,601.3 479.2,601.6 475.9,601.9 472.6,603.1 469.4,603.8 466.1,604.4 462.8,603.2 459.5,602.7 457.3,601.5 455.1,599.9 452.9,598.6 449.7,598.7 446.4,599.3 443.1,599.7 439.8,600.3 437.4,600.2 434.9,599.0 431.6,598.4 428.3,598.4 425.0,598.3 421.8,599.1 418.5,598.3 415.4,598.0 412.4,598.7 409.3,598.1 406.3,598.3 403.2,598.2 400.2,599.1 397.1,598.6 394.1,599.2 391.0,599.2 387.9,600.2 384.8,599.9 381.8,599.7 378.7,600.2 375.6,600.8 372.5,601.1 369.2,599.9 366.0,599.6 362.7,599.6 359.4,598.9 356.1,598.6 352.8,599.6 349.5,600.7 346.3,601.0 343.0,601.9 339.7,602.4 336.4,602.7 333.1,603.6 329.8,603.6 326.6,604.3 323.3,604.7 320.0,605.2 313.4,606.0 310.1,606.7 306.8,606.9 303.5,607.2 300.2,606.5 297.0,607.2 293.7,607.5 290.4,607.3 287.1,607.5 283.8,608.4 280.5,608.5 277.3,608.3 274.0,607.7 270.7,607.7 268.5,606.2 266.3,604.5 264.1,602.7 260.8,602.5 257.6,603.0 254.3,602.2 251.0,602.2 247.7,601.9 244.4,602.7 241.1,603.2 237.9,604.1 234.6,604.7 231.3,605.2 228.6,606.2 225.8,607.5 223.1,608.2 220.4,609.8 217.6,610.7 214.9,611.8 212.2,612.4 209.4,614.5 206.7,614.8 203.9,616.2 201.2,616.9 198.5,618.3 195.7,619.5 193.0,620.6 190.3,621.3 187.5,622.9 184.8,624.1 182.1,624.9 179.3,626.0 176.6,627.2 173.9,627.9 171.1,629.4 168.4,630.4 165.7,631.5 162.9,633.4 160.2,635.2 157.4,637.2 154.8,638.5 152.2,640.0 127.3,759.2" fill="none" stroke="#6600ff" stroke-width="3.5" stroke-linejoin="round" stroke-linecap="round"/>
<polyline points="127.3,759.2 137.5,700.0 148.3,640.0 159.5,585.0 171.5,530.0 186.0,462.0 193.0,434.8 208.7,390.0 212.0,378.0 220.0,358.0 226.3,346.0 226.7,349.2 227.2,352.5 227.7,355.8 229.8,354.5 231.9,353.0 234.7,352.4 237.5,351.6 240.8,350.9 244.1,350.5 247.4,349.5 250.7,348.1 253.9,347.8 257.2,346.7 260.0,345.8 262.8,343.9 265.7,343.4 268.5,341.7 271.3,340.7 274.1,339.6 276.9,338.8 279.7,338.2 282.5,337.5 284.7,338.5 286.8,338.9 289.2,337.4 291.7,336.2 294.2,335.3 296.6,333.3 299.4,332.4 302.2,331.5 305.1,329.9 307.9,329.4 310.7,328.4 313.5,326.8 316.3,325.1 319.1,323.9 321.9,322.3 324.7,320.6 327.6,319.8 330.4,318.9 333.2,317.8 336.0,316.5 338.8,315.7 341.3,317.7 343.7,319.5 346.2,321.5 348.7,323.5 351.5,323.9 354.3,324.1 357.1,324.1 359.9,324.9 362.7,325.1 365.5,325.6 368.4,325.0 371.2,325.6 374.0,325.6 376.8,325.8 379.6,325.9 382.4,326.0 385.2,326.1 388.1,326.3 391.2,326.3 394.3,325.6 397.5,326.6 400.6,327.4 403.7,326.8 406.9,327.2 410.0,327.7 433.9,325.6 437.3,324.6 440.7,324.5 444.0,323.8 447.4,322.9 449.6,324.6 451.7,326.6 453.9,328.8 456.0,330.4 458.2,332.4 461.6,331.9 464.9,333.5 468.3,334.1 471.7,334.5 474.8,334.2 477.8,333.3 480.9,332.9 484.0,333.2 487.1,331.6 490.2,330.9 493.2,331.0 496.6,331.5 500.0,330.3 503.4,330.4 506.7,330.6 510.1,329.6 513.5,329.7 516.8,329.1 520.2,329.1 522.9,327.7 525.6,327.1 528.3,325.6 531.4,324.9 534.6,324.0 537.7,322.6 540.9,321.9 544.0,321.4 547.2,320.2 550.3,319.7 553.3,318.4 556.4,318.0 559.5,317.5 562.6,316.1 565.7,315.2 568.7,314.8 572.1,314.1 575.5,312.8 578.9,312.4 582.2,311.3 585.6,310.3 589.0,309.7 592.3,308.6 595.7,308.1 610.9,300.0 614.0,299.3 617.0,298.5 620.1,297.6 623.1,297.0 626.2,295.7 629.2,295.4 632.1,293.7 634.9,292.4 637.7,291.3 640.5,289.7 643.3,288.3 646.1,287.5 648.9,286.0 651.7,284.8 654.6,283.2 657.4,282.0 660.2,280.9 663.0,280.1 665.8,279.4 668.6,278.4 671.4,277.1 674.3,276.1 677.1,275.2 679.9,274.0 682.7,273.7 685.5,272.8 688.3,272.0 691.1,270.0 694.0,269.5 696.8,267.8 699.6,266.5 702.4,265.6 705.2,264.0 708.0,262.5 710.8,261.5 713.6,260.2 716.5,258.3 719.3,257.0 722.1,256.0 724.9,254.9 727.7,253.2 730.5,251.2 733.3,249.3 736.2,247.4 739.0,245.2 741.8,243.3 744.8,241.5 747.9,240.0 750.9,238.0 754.0,236.8 757.0,235.0 760.1,233.5 762.5,231.3 765.0,229.5 767.5,227.1 769.9,225.0 772.3,223.2 774.6,221.3 777.0,219.6 779.3,217.4 781.6,215.7 784.0,213.8 800.7,200.0 803.2,198.2 805.7,196.8 808.1,194.7 810.6,193.3 813.9,192.4 817.1,192.6 818.8,189.9 820.4,187.2 821.9,184.4 823.3,181.6 824.7,178.9 826.2,176.1 827.6,173.4 829.0,170.6 830.5,167.8 831.9,165.0 833.4,162.2 834.8,159.2 836.3,156.3 837.7,153.4 839.2,150.4 840.7,147.5 842.1,144.6 843.6,141.7 845.0,138.8 846.5,135.9 848.0,133.0 849.4,130.0 850.9,127.1 852.3,124.2 853.8,121.3 855.3,118.4 856.7,115.4 858.2,112.5 859.6,109.4 861.0,106.4 862.5,103.3 863.9,100.2 865.4,97.1 866.8,94.1 868.2,91.0 869.7,87.9 870.8,85.3 872.0,82.8 873.1,80.2 874.3,77.7 875.4,75.1 874.6,75.1 872.0,85.3 869.3,95.6 866.7,105.8 864.0,116.1 861.3,126.3 858.6,136.6 855.8,146.8 853.0,157.1 850.2,167.3 847.4,177.6 844.5,187.8 841.6,198.1 838.7,208.3 835.7,218.5 832.6,228.7 829.6,238.9 826.4,249.1 823.3,259.2 820.0,269.4 816.7,279.5 813.4,289.6 809.9,299.7 806.4,309.8 802.9,319.9 799.3,329.9 795.6,339.9 791.8,349.9 787.9,359.8 784.0,369.8 779.9,379.7 775.8,389.5 771.6,399.4 767.3,409.2 762.9,419.0 758.5,428.7 753.9,438.4 749.2,448.1 744.4,457.7 739.4,467.3 734.4,476.7 729.2,486.1 723.8,495.4 718.3,504.5 712.6,513.5 706.7,522.3 700.6,531.0 694.4,539.4 687.9,547.7 681.1,555.7 674.2,563.5 667.0,571.0 659.5,578.3 651.7,585.2 643.7,591.9 635.4,598.3 626.8,604.3 617.9,610.0 608.6,615.3 599.1,620.2 594.2,617.7 591.4,618.7 588.7,619.1 586.0,620.1 583.8,618.8 581.6,617.2 579.4,616.0 576.1,616.8 572.8,618.1 570.1,618.0 567.4,618.6 564.6,618.5 561.7,618.8 558.7,619.3 555.8,619.1 552.8,619.2 549.8,619.3 547.4,618.7 544.9,617.5 542.5,616.1 540.0,615.2 548.1,618.5 545.7,617.4 543.2,616.0 540.8,614.6 538.3,613.6 535.8,613.9 533.4,614.4 530.9,613.1 528.4,612.1 526.0,611.3 523.5,610.6 520.6,610.6 517.6,610.6 514.7,609.9 511.7,610.2 508.7,610.3 505.5,610.2 502.2,610.6 498.9,610.5 495.6,611.1 492.3,611.1 489.3,611.1 486.2,611.7 483.1,611.8 480.0,612.1 476.9,611.9 473.9,612.4 470.8,613.1 467.7,612.7 464.4,613.5 461.1,613.0 457.9,613.4 454.6,613.6 451.3,614.4 448.0,614.2 444.7,613.9 441.5,613.8 438.2,614.8 434.9,614.9 431.8,614.7 428.7,615.5 425.7,615.2 422.6,615.9 419.5,616.2 416.4,615.6 413.3,616.0 410.3,616.0 407.0,616.6 403.7,617.2 400.4,617.4 397.1,618.4 393.9,618.5 392.2,617.7 390.6,616.8 388.1,615.1 385.7,613.2 382.4,612.9 379.1,613.5 375.8,613.3 372.5,614.5 369.2,613.9 366.2,614.6 363.1,614.4 360.0,614.3 356.9,615.0 353.9,614.1 350.8,615.3 347.7,615.3 344.6,614.9 341.5,615.0 338.5,615.8 335.4,615.4 332.3,616.4 329.2,616.6 326.2,617.3 323.1,618.0 320.0,617.7 313.4,618.5 310.1,618.5 306.8,619.5 303.5,619.6 300.2,620.4 297.0,620.5 293.7,621.1 290.4,621.7 287.1,621.5 283.8,622.3 280.5,622.6 277.3,622.4 274.0,623.3 270.7,623.3 267.4,623.7 264.1,624.1 260.8,624.5 257.6,624.9 254.3,624.7 251.0,625.2 247.7,625.9 244.8,626.2 242.0,626.4 239.1,626.1 236.2,626.7 234.0,625.5 231.8,625.3 229.7,624.2 226.7,625.0 223.8,626.5 220.8,627.7 217.8,628.8 214.9,630.0 211.6,630.7 208.3,631.8 205.0,632.8 201.8,634.1 198.5,634.9 195.7,636.1 193.0,637.0 190.3,639.3 187.5,640.7 184.8,641.7 182.1,643.1 179.3,644.7 176.6,646.9 173.9,648.8 171.1,651.2 168.4,652.4 165.7,654.6 162.8,655.6 159.9,657.1 157.0,658.4 154.2,660.0 155.2,659.5 154.4,661.2 153.7,662.9 131.6,759.2" fill="none" stroke="#808000" stroke-width="3.5" stroke-linejoin="round" stroke-linecap="round"/>
<polyline points="129.6,759.2 140.0,700.0 151.4,640.0 164.0,585.0 178.2,530.0 199.8,434.8 216.4,390.0 223.5,368.5 225.2,365.6 227.0,362.8 228.7,360.0 230.5,357.2 232.8,356.5 235.2,355.6 237.5,354.4 240.9,353.1 244.3,353.1 247.7,351.8 251.0,350.4 254.4,350.2 256.5,350.1 258.6,350.2 260.5,351.6 262.4,353.5 264.3,355.1 267.1,355.0 269.9,354.8 272.7,354.5 275.5,354.4 278.3,354.1 281.1,353.7 284.0,353.7 286.8,353.4 289.6,353.7 292.4,353.2 295.2,352.6 298.0,352.3 300.8,350.5 303.6,350.9 306.5,350.4 309.3,349.7 312.1,349.4 314.9,349.0 317.7,348.8 320.5,347.9 323.3,347.5 326.2,346.6 329.0,346.4 331.8,345.3 334.6,345.0 337.4,344.8 340.2,343.5 343.0,343.8 345.8,343.2 348.7,342.8 351.5,342.1 354.3,341.7 357.1,341.6 359.9,341.0 362.7,342.4 365.5,343.9 368.4,342.6 371.2,341.5 374.0,340.3 377.4,339.7 380.7,340.0 384.1,339.5 387.5,339.4 390.9,338.9 392.3,341.1 393.7,343.2 395.8,340.7 397.9,338.2 400.9,337.1 404.0,335.4 407.0,334.0 410.0,332.6 433.9,327.0 437.3,326.1 440.7,325.2 444.0,324.5 447.4,323.8 450.8,323.0 454.2,322.3 457.5,321.3 460.9,320.2 463.0,320.0 466.1,319.4 469.2,318.1 472.3,318.4 475.4,316.7 478.5,316.1 481.3,315.4 484.1,314.7 485.5,316.2 486.9,317.5 489.7,315.8 492.5,314.0 495.4,312.8 498.2,311.8 501.0,310.7 503.8,309.4 506.6,308.3 509.4,307.3 512.2,306.3 515.1,305.4 517.9,304.8 520.7,304.1 523.5,302.4 526.3,301.1 529.1,299.9 531.9,298.4 534.7,297.1 537.6,295.8 540.4,294.9 543.2,293.9 546.0,292.4 548.8,291.4 551.6,290.9 554.4,290.4 557.3,289.0 560.1,288.3 562.9,287.2 565.2,286.4 567.6,286.1 569.9,285.4 572.0,287.4 574.1,289.3 576.0,287.8 577.9,286.6 579.8,285.1 594.1,279.2 596.9,278.3 599.7,277.8 602.5,276.8 605.3,277.0 608.1,275.7 610.9,273.9 613.8,273.0 616.6,271.2 619.4,270.0 622.2,268.6 625.0,267.8 627.8,266.3 630.6,265.6 633.5,264.5 636.3,263.7 639.1,263.4 641.9,261.7 644.7,261.3 647.5,260.6 650.3,259.5 653.2,258.1 656.0,257.3 658.8,256.8 661.6,255.6 664.4,254.6 667.2,254.3 670.0,253.4 672.8,252.1 675.7,251.2 678.5,250.3 681.3,249.3 684.1,247.9 686.9,246.5 689.7,245.7 692.5,244.0 695.4,242.9 698.2,241.8 701.0,240.3 703.8,239.6 706.6,238.4 709.4,236.4 712.2,234.3 715.1,232.4 717.9,230.4 720.7,228.5 723.5,226.9 726.3,225.8 729.1,223.7 731.9,222.3 734.7,220.8 737.6,218.8 740.4,217.3 743.2,215.6 746.0,214.4 748.8,212.4 751.6,210.7 754.4,209.4 757.3,207.1 760.1,205.5 762.9,203.9 769.5,200.0 772.0,197.9 774.5,195.7 776.9,193.6 779.4,191.3 782.2,190.2 785.0,188.5 787.8,186.9 790.6,185.4 793.5,184.0 796.3,182.9 799.1,181.5 801.5,179.4 804.0,177.6 806.5,175.7 808.9,173.3 811.4,171.7 813.9,169.6 816.6,169.7 819.3,169.9 822.1,169.6 823.7,167.3 825.3,165.0 826.8,162.2 828.2,159.4 829.6,156.6 831.0,153.8 832.4,151.0 833.8,148.2 835.2,145.3 836.8,142.6 838.5,139.8 840.1,137.1 841.8,134.4 843.4,131.7 845.0,128.9 847.5,126.3 850.0,124.0 851.4,121.1 852.8,118.2 854.3,115.4 855.7,112.5 857.1,109.6 858.6,106.8 860.0,103.9 861.5,101.0 863.0,98.2 864.6,95.3 866.1,92.4 867.7,89.5 869.2,86.6 870.8,83.7 872.3,80.9 873.9,78.0 875.4,75.1 876.2,75.1 873.6,85.3 870.9,95.6 868.3,105.8 865.6,116.1 862.9,126.3 860.2,136.6 857.4,146.8 854.6,157.1 851.8,167.3 849.0,177.6 846.1,187.8 843.2,198.1 840.3,208.3 837.3,218.5 834.2,228.7 831.2,238.9 828.0,249.1 824.9,259.2 821.6,269.4 818.3,279.5 815.0,289.6 811.5,299.7 808.0,309.8 804.5,319.9 800.9,329.9 797.2,339.9 793.4,349.9 789.5,359.8 785.6,369.8 781.5,379.7 777.4,389.5 773.2,399.4 768.9,409.2 764.5,419.0 760.1,428.7 755.5,438.4 750.8,448.1 746.0,457.7 741.0,467.3 736.0,476.7 730.8,486.1 725.4,495.4 719.9,504.5 714.2,513.5 708.3,522.3 702.2,531.0 696.0,539.4 689.5,547.7 682.7,555.7 675.8,563.5 668.6,571.0 661.1,578.3 653.3,585.2 645.3,591.9 637.0,598.3 628.4,604.3 619.5,610.0 610.2,615.3 600.7,620.2 594.2,618.1 591.4,618.8 588.7,619.2 586.0,620.6 583.8,619.1 581.6,618.0 579.4,616.8 576.1,618.1 572.8,618.8 570.1,618.9 567.4,618.4 564.6,619.1 561.7,619.1 558.7,619.3 555.8,619.7 552.8,619.6 549.8,619.8 546.6,618.9 543.3,617.1 540.0,616.8 549.8,620.1 547.0,620.1 544.3,619.9 541.6,620.1 538.8,619.0 536.1,617.7 533.4,616.8 530.6,615.0 527.9,613.5 525.2,612.7 522.4,612.8 519.7,612.4 517.0,612.7 513.7,612.6 510.4,612.8 507.1,613.4 503.8,612.5 500.5,613.1 497.3,612.7 494.0,613.8 490.7,614.7 487.4,614.6 484.1,616.0 480.8,616.8 477.6,617.2 474.3,617.7 471.0,617.7 467.7,618.5 464.8,618.8 462.0,619.3 459.1,619.0 456.2,619.3 453.8,617.3 451.3,616.0 448.0,616.1 444.7,616.3 441.5,616.3 438.2,616.6 434.9,616.5 431.8,616.2 428.7,616.6 425.7,617.1 422.6,617.2 419.5,617.8 416.4,617.2 413.3,617.3 410.3,617.7 407.0,617.9 403.7,618.2 400.4,618.6 397.1,618.5 393.9,618.5 391.1,618.6 388.4,618.3 385.7,618.0 382.4,618.2 379.1,618.3 375.8,619.3 372.5,619.1 369.2,619.3 366.2,619.6 363.1,620.1 360.0,620.3 356.9,620.6 353.9,620.4 350.8,620.1 347.7,621.1 344.6,620.9 341.5,621.0 338.5,622.2 335.4,621.4 332.3,622.2 329.2,622.3 326.2,621.9 323.1,621.8 320.0,622.6 297.0,623.4 293.7,623.7 290.4,623.8 287.1,623.9 283.8,624.4 280.5,624.8 277.3,625.3 274.0,625.1 270.7,625.8 267.4,625.4 264.1,625.9 261.0,626.9 257.9,626.5 254.8,626.4 251.7,626.4 248.6,627.0 245.5,627.1 242.4,627.8 239.3,627.7 236.2,628.3 233.6,629.9 231.0,630.5 228.3,631.0 225.7,631.8 223.1,633.2 220.4,634.5 217.6,635.3 214.9,636.6 212.2,637.8 209.4,638.4 206.7,639.8 203.9,640.8 201.2,642.6 198.5,643.8 195.7,645.1 193.0,646.9 190.3,648.0 187.5,649.9 184.8,651.8 182.1,654.1 179.3,655.9 176.6,657.9 173.9,660.0 166.6,663.6 164.6,665.4 162.6,666.6 160.5,668.2 158.6,668.4 156.7,669.0 134.9,759.2" fill="none" stroke="#808000" stroke-width="3.5" stroke-linejoin="round" stroke-linecap="round"/>
</g>
<rect x="110.0" y="18.7" width="860.2" height="740.5" fill="none" stroke="#000" stroke-width="5.2"/>
<g stroke="#000" stroke-width="5.2" fill="none"><line x1="110.0" y1="759.2" x2="110.0" y2="767.7"/><line x1="205.6" y1="759.2" x2="205.6" y2="767.7"/><line x1="301.2" y1="759.2" x2="301.2" y2="767.7"/><line x1="396.7" y1="759.2" x2="396.7" y2="767.7"/><line x1="492.3" y1="759.2" x2="492.3" y2="767.7"/><line x1="587.9" y1="759.2" x2="587.9" y2="767.7"/><line x1="683.5" y1="759.2" x2="683.5" y2="767.7"/><line x1="779.0" y1="759.2" x2="779.0" y2="767.7"/><line x1="874.6" y1="759.2" x2="874.6" y2="767.7"/><line x1="970.2" y1="759.2" x2="970.2" y2="767.7"/><line x1="110.0" y1="759.2" x2="101.5" y2="759.2"/><line x1="110.0" y1="666.6" x2="101.5" y2="666.6"/><line x1="110.0" y1="574.1" x2="101.5" y2="574.1"/><line x1="110.0" y1="481.5" x2="101.5" y2="481.5"/><line x1="110.0" y1="389.0" x2="101.5" y2="389.0"/><line x1="110.0" y1="296.4" x2="101.5" y2="296.4"/><line x1="110.0" y1="203.8" x2="101.5" y2="203.8"/><line x1="110.0" y1="111.3" x2="101.5" y2="111.3"/><line x1="110.0" y1="18.7" x2="101.5" y2="18.7"/></g>
<text transform="translate(110.0,804.7) scale(0.9,1)" text-anchor="middle" font-family='"Liberation Serif", "DejaVu Serif", serif' font-weight="bold" font-size="40.3" fill="#000">0</text>
<text transform="translate(205.6,804.7) scale(0.9,1)" text-anchor="middle" font-family='"Liberation Serif", "DejaVu Serif", serif' font-weight="bold" font-size="40.3" fill="#000">1</text>
<text transform="translate(301.2,804.7) scale(0.9,1)" text-anchor="middle" font-family='"Liberation Serif", "DejaVu Serif", serif' font-weight="bold" font-size="40.3" fill="#000">2</text>
<text transform="translate(396.7,804.7) scale(0.9,1)" text-anchor="middle" font-family='"Liberation Serif", "DejaVu Serif", serif' font-weight="bold" font-size="40.3" fill="#000">3</text>
<text transform="translate(492.3,804.7) scale(0.9,1)" text-anchor="middle" font-family='"Liberation Serif", "DejaVu Serif", serif' font-weight="bold" font-size="40.3" fill="#000">4</text>
<text transform="translate(587.9,804.7) scale(0.9,1)" text-anchor="middle" font-family='"Liberation Serif", "DejaVu Serif", serif' font-weight="bold" font-size="40.3" fill="#000">5</text>
<text transform="translate(683.5,804.7) scale(0.9,1)" text-anchor="middle" font-family='"Liberation Serif", "DejaVu Serif", serif' font-weight="bold" font-size="40.3" fill="#000">6</text>
<text transform="translate(779.0,804.7) scale(0.9,1)" text-anchor="middle" font-family='"Liberation Serif", "DejaVu Serif", serif' font-weight="bold" font-size="40.3" fill="#000">7</text>
<text transform="translate(874.6,804.7) scale(0.9,1)" text-anchor="middle" font-family='"Liberation Serif", "DejaVu Serif", serif' font-weight="bold" font-size="40.3" fill="#000">8</text>
<text transform="translate(970.2,804.7) scale(0.9,1)" text-anchor="middle" font-family='"Liberation Serif", "DejaVu Serif", serif' font-weight="bold" font-size="40.3" fill="#000">9</text>
<text transform="translate(96.0,771.2) scale(0.9,1)" text-anchor="end" font-family='"Liberation Serif", "DejaVu Serif", serif' font-weight="bold" font-size="40.3" fill="#000">0</text>
<text transform="translate(96.0,678.6) scale(0.9,1)" text-anchor="end" font-family='"Liberation Serif", "DejaVu Serif", serif' font-weight="bold" font-size="40.3" fill="#000">100</text>
<text transform="translate(96.0,586.1) scale(0.9,1)" text-anchor="end" font-family='"Liberation Serif", "DejaVu Serif", serif' font-weight="bold" font-size="40.3" fill="#000">200</text>
<text transform="translate(96.0,493.5) scale(0.9,1)" text-anchor="end" font-family='"Liberation Serif", "DejaVu Serif", serif' font-weight="bold" font-size="40.3" fill="#000">300</text>
<text transform="translate(96.0,401.0) scale(0.9,1)" text-anchor="end" font-family='"Liberation Serif", "DejaVu Serif", serif' font-weight="bold" font-size="40.3" fill="#000">400</text>
<text transform="translate(96.0,308.4) scale(0.9,1)" text-anchor="end" font-family='"Liberation Serif", "DejaVu Serif", serif' font-weight="bold" font-size="40.3" fill="#000">500</text>
<text transform="translate(96.0,215.8) scale(0.9,1)" text-anchor="end" font-family='"Liberation Serif", "DejaVu Serif", serif' font-weight="bold" font-size="40.3" fill="#000">600</text>
<text transform="translate(96.0,123.3) scale(0.9,1)" text-anchor="end" font-family='"Liberation Serif", "DejaVu Serif", serif' font-weight="bold" font-size="40.3" fill="#000">700</text>
<text transform="translate(96.0,30.7) scale(0.9,1)" text-anchor="end" font-family='"Liberation Serif", "DejaVu Serif", serif' font-weight="bold" font-size="40.3" fill="#000">800</text>
<text transform="translate(540.0,842.0) scale(0.9,1)" text-anchor="middle" font-family='"Liberation Serif", "DejaVu Serif", serif' font-weight="bold" font-size="40.3" fill="#000">Strain (%)</text>
<text transform="translate(29.0,367.0) rotate(-90) scale(1.085,1)" text-anchor="middle" font-family='"Liberation Serif", "DejaVu Serif", serif' font-weight="bold" font-size="36.2" fill="#000">Stress (MPa)</text>
<text transform="translate(936.0,62.0) scale(0.967,1)" text-anchor="middle" font-family='"Liberation Serif", "DejaVu Serif", serif' font-weight="bold" font-size="37.5" fill="#000">(a)</text>
<line x1="857.6" y1="487.0" x2="914.6" y2="487.0" stroke="#000000" stroke-width="1.8" stroke-linecap="round"/>
<text transform="translate(922.3,497.1) scale(0.87,1)" text-anchor="start" font-family='"Liberation Serif", "DejaVu Serif", serif' font-weight="bold" font-size="30" fill="#000">1%</text>
<line x1="857.6" y1="522.6" x2="914.6" y2="522.6" stroke="#ff0000" stroke-width="4" stroke-linecap="round"/>
<text transform="translate(922.3,532.7) scale(0.87,1)" text-anchor="start" font-family='"Liberation Serif", "DejaVu Serif", serif' font-weight="bold" font-size="30" fill="#000">2%</text>
<line x1="857.6" y1="558.2" x2="914.6" y2="558.2" stroke="#00ff00" stroke-width="4" stroke-linecap="round"/>
<text transform="translate(922.3,568.3) scale(0.87,1)" text-anchor="start" font-family='"Liberation Serif", "DejaVu Serif", serif' font-weight="bold" font-size="30" fill="#000">3%</text>
<line x1="857.6" y1="593.8" x2="914.6" y2="593.8" stroke="#0000ff" stroke-width="4" stroke-linecap="round"/>
<text transform="translate(922.3,603.9) scale(0.87,1)" text-anchor="start" font-family='"Liberation Serif", "DejaVu Serif", serif' font-weight="bold" font-size="30" fill="#000">4%</text>
<line x1="857.6" y1="629.4" x2="914.6" y2="629.4" stroke="#00ffff" stroke-width="4" stroke-linecap="round"/>
<text transform="translate(922.3,639.5) scale(0.87,1)" text-anchor="start" font-family='"Liberation Serif", "DejaVu Serif", serif' font-weight="bold" font-size="30" fill="#000">5%</text>
<line x1="857.6" y1="665.0" x2="914.6" y2="665.0" stroke="#ff00ff" stroke-width="4" stroke-linecap="round"/>
<text transform="translate(922.3,675.1) scale(0.87,1)" text-anchor="start" font-family='"Liberation Serif", "DejaVu Serif", serif' font-weight="bold" font-size="30" fill="#000">6%</text>
<line x1="857.6" y1="700.6" x2="914.6" y2="700.6" stroke="#6600ff" stroke-width="4" stroke-linecap="round"/>
<text transform="translate(922.3,710.7) scale(0.87,1)" text-anchor="start" font-family='"Liberation Serif", "DejaVu Serif", serif' font-weight="bold" font-size="30" fill="#000">7%</text>
<line x1="857.6" y1="736.2" x2="914.6" y2="736.2" stroke="#808000" stroke-width="4" stroke-linecap="round"/>
<text transform="translate(922.3,746.3) scale(0.87,1)" text-anchor="start" font-family='"Liberation Serif", "DejaVu Serif", serif' font-weight="bold" font-size="30" fill="#000">8%</text>
<g stroke="#bcbcbc" stroke-width="1.3" stroke-dasharray="1.7 3.6" fill="none"><line x1="1245.5" y1="18.0" x2="1245.5" y2="746.2"/><line x1="1338.5" y1="18.0" x2="1338.5" y2="746.2"/><line x1="1431.4" y1="18.0" x2="1431.4" y2="746.2"/><line x1="1524.4" y1="18.0" x2="1524.4" y2="746.2"/><line x1="1617.4" y1="18.0" x2="1617.4" y2="746.2"/><line x1="1710.4" y1="18.0" x2="1710.4" y2="746.2"/><line x1="1803.3" y1="18.0" x2="1803.3" y2="746.2"/><line x1="1896.3" y1="18.0" x2="1896.3" y2="746.2"/></g>
<g stroke="#bcbcbc" stroke-width="1.3" stroke-dasharray="1.7 3.4" fill="none"><line x1="1152.5" y1="673.4" x2="1989.3" y2="673.4"/><line x1="1152.5" y1="600.6" x2="1989.3" y2="600.6"/><line x1="1152.5" y1="527.7" x2="1989.3" y2="527.7"/><line x1="1152.5" y1="454.9" x2="1989.3" y2="454.9"/><line x1="1152.5" y1="382.1" x2="1989.3" y2="382.1"/><line x1="1152.5" y1="309.3" x2="1989.3" y2="309.3"/><line x1="1152.5" y1="236.5" x2="1989.3" y2="236.5"/><line x1="1152.5" y1="163.6" x2="1989.3" y2="163.6"/><line x1="1152.5" y1="90.8" x2="1989.3" y2="90.8"/></g>
<clipPath id="clipb"><rect x="1152.5" y="18.0" width="836.8" height="730.2"/></clipPath>
<g clip-path="url(#clipb)">
<polyline points="1152.2,746.0 1157.6,741.5 1164.1,731.6 1169.1,718.5 1174.9,694.0 1183.1,661.0 1192.1,620.0 1203.3,575.0 1215.1,530.0 1225.2,492.0 1235.2,454.0 1252.6,400.0 1264.0,370.0" fill="none" stroke="#000000" stroke-width="1.6" stroke-linejoin="round" stroke-linecap="round"/>
<polyline points="1152.9,746.0 1158.3,741.5 1164.9,731.6 1169.9,718.5 1175.8,694.0 1184.1,661.0 1193.3,620.0 1204.7,575.0 1216.7,530.0 1226.9,492.0 1237.1,454.0 1254.1,400.0 1266.6,365.2 1268.5,362.9 1270.5,360.8 1272.5,358.3 1274.5,356.2 1276.4,353.9 1279.2,352.5 1279.9,354.6 1280.6,356.7 1283.1,355.5 1285.6,354.5 1288.0,354.1 1290.5,352.5 1293.8,351.0 1297.1,350.9 1300.3,349.4 1302.1,349.2 1303.9,348.3 1305.3,351.5 1306.7,354.6 1309.2,355.0 1311.8,354.3 1314.4,353.9 1317.2,352.9 1320.0,353.1 1322.8,352.4 1325.7,352.3 1328.5,351.8 1331.6,352.1 1334.8,351.4 1335.2,354.8 1335.5,358.1 1337.3,359.0 1339.0,359.5 1339.0,359.5 1337.6,363.5 1336.1,367.4 1334.6,371.4 1333.1,375.4 1331.6,379.4 1330.1,383.3 1328.6,387.3 1327.1,391.3 1325.5,395.3 1323.9,399.3 1322.4,403.3 1320.8,407.3 1319.2,411.3 1317.6,415.3 1316.0,419.3 1314.3,423.3 1312.7,427.3 1311.0,431.3 1309.4,435.3 1307.7,439.3 1306.0,443.3 1304.3,447.3 1302.6,451.2 1300.9,455.2 1299.2,459.2 1297.4,463.2 1295.7,467.2 1293.9,471.1 1292.2,475.1 1290.4,479.0 1288.5,482.9 1286.6,486.8 1284.7,490.6 1282.6,494.3 1280.5,497.9 1278.2,501.4 1275.9,504.8 1273.4,508.1 1270.7,511.2 1267.9,514.2 1264.9,517.0 1261.7,519.6 1258.3,522.0 1254.7,524.3 1250.9,526.2 1246.8,528.0 1242.5,529.5 1225.0,533.0 1205.8,575.0 1194.0,620.0 1184.7,661.0 1176.3,694.0 1170.3,718.5 1165.2,731.6 1158.6,741.5 1153.2,746.0" fill="none" stroke="#ff0000" stroke-width="3.5" stroke-linejoin="round" stroke-linecap="round"/>
<polyline points="1153.2,746.0 1158.6,741.5 1165.2,731.6 1170.3,718.5 1176.3,694.0 1184.7,661.0 1194.0,620.0 1205.8,575.0 1218.1,530.0 1228.4,492.0 1238.6,454.0 1255.1,402.0 1263.8,376.4 1266.1,374.3 1268.5,372.7 1270.8,370.8 1271.5,372.9 1272.2,375.0 1275.0,373.6 1277.8,372.1 1280.6,370.8 1283.1,369.5 1285.6,368.0 1288.0,366.7 1290.5,365.9 1292.6,365.2 1294.7,364.5 1295.4,366.9 1296.1,369.4 1298.9,369.6 1301.7,368.7 1304.6,369.1 1307.4,368.7 1310.7,367.7 1313.9,366.8 1317.2,366.6 1320.0,365.8 1322.8,364.4 1325.7,363.3 1328.5,362.4 1329.9,364.4 1331.3,366.6 1333.2,364.7 1335.0,362.8 1336.9,360.9 1339.0,359.5 1339.0,359.5 1337.8,363.7 1336.5,367.9 1335.2,372.1 1333.9,376.4 1332.6,380.6 1331.3,384.8 1330.0,389.1 1328.6,393.3 1327.2,397.6 1325.8,401.8 1324.2,406.1 1322.7,410.3 1321.1,414.6 1319.5,418.8 1317.9,423.1 1316.2,427.3 1314.6,431.6 1312.9,435.8 1311.2,440.0 1309.5,444.3 1307.8,448.5 1306.0,452.7 1304.3,456.9 1302.5,461.1 1300.7,465.2 1298.9,469.4 1297.0,473.6 1295.2,477.7 1293.3,481.8 1291.4,485.9 1289.5,490.0 1287.6,494.1 1285.6,498.1 1283.4,502.0 1281.2,505.9 1278.8,509.7 1276.3,513.3 1273.7,516.9 1270.9,520.3 1267.9,523.5 1264.8,526.5 1261.4,529.4 1257.9,532.0 1254.1,534.5 1250.1,536.6 1245.8,538.6 1241.2,540.2 1225.0,544.0 1206.9,575.0 1194.5,620.0 1185.2,661.0 1176.7,694.0 1170.7,718.5 1165.6,731.6 1159.0,741.5 1153.6,746.0" fill="none" stroke="#ff0000" stroke-width="3.5" stroke-linejoin="round" stroke-linecap="round"/>
<polyline points="1153.6,746.0 1159.0,741.5 1165.6,731.6 1170.7,718.5 1176.7,694.0 1185.2,661.0 1194.5,620.0 1206.9,575.0 1219.8,530.0 1230.0,492.0 1240.1,454.0 1256.6,404.0 1267.3,379.2 1268.3,381.0 1269.4,382.8 1271.9,381.5 1274.3,380.4 1276.8,378.8 1279.2,377.8 1282.1,376.8 1284.9,375.4 1287.7,374.1 1290.5,372.9 1291.5,374.7 1292.6,376.4 1295.2,377.0 1297.8,376.8 1300.3,376.4 1303.2,375.9 1306.0,375.4 1308.8,375.2 1311.6,374.5 1314.4,373.6 1317.2,372.6 1320.0,371.3 1322.8,370.5 1325.7,369.4 1327.1,370.7 1328.5,372.2 1329.9,369.8 1331.3,367.5 1332.7,365.2 1335.5,363.5 1338.3,361.7 1341.4,360.5 1344.4,360.6 1347.5,359.2 1350.5,359.1 1353.6,358.0 1356.6,358.1 1359.6,357.2 1362.6,356.8 1365.7,356.6 1368.7,355.9 1371.7,355.0 1374.7,354.6 1377.7,353.9 1380.7,353.3 1383.7,352.7 1386.8,353.0 1389.8,352.4 1392.8,351.9 1395.8,351.3 1398.8,351.1 1401.6,350.5 1404.4,350.3 1407.3,350.5 1410.1,349.7 1412.9,349.4 1415.9,349.3 1419.0,348.7 1422.0,347.4 1425.1,347.2 1428.1,347.4 1431.2,346.9 1432.6,347.6 1431.4,347.6 1429.5,352.5 1427.6,357.4 1425.8,362.4 1423.9,367.4 1422.1,372.4 1420.3,377.4 1418.5,382.5 1416.6,387.6 1414.8,392.6 1412.9,397.7 1411.1,402.8 1409.2,407.9 1407.3,413.0 1405.4,418.1 1403.4,423.2 1401.4,428.2 1399.3,433.3 1397.2,438.3 1395.1,443.3 1392.9,448.2 1390.6,453.1 1388.3,458.0 1385.9,462.8 1383.4,467.6 1380.9,472.3 1378.2,476.9 1375.5,481.4 1372.6,485.9 1369.7,490.3 1366.7,494.7 1363.6,499.0 1360.3,503.1 1357.0,507.2 1353.5,511.2 1349.9,515.0 1346.2,518.7 1342.3,522.3 1338.3,525.6 1334.2,528.9 1330.0,531.9 1325.6,534.7 1321.1,537.3 1316.4,539.6 1311.5,541.8 1306.5,543.7 1301.3,545.4 1296.0,546.9 1290.7,548.3 1285.3,549.7 1279.9,550.9 1274.5,552.2 1269.1,553.5 1263.9,554.9 1258.7,556.3 1253.6,557.9 1248.6,559.5 1243.6,561.0 1238.7,562.5 1233.7,563.8 1215.0,568.0 1207.6,575.0 1195.0,620.0 1185.6,661.0 1177.1,694.0 1171.1,718.5 1165.9,731.6 1159.3,741.5 1153.9,746.0" fill="none" stroke="#00ff00" stroke-width="3.5" stroke-linejoin="round" stroke-linecap="round"/>
<polyline points="1153.9,746.0 1159.3,741.5 1165.9,731.6 1171.1,718.5 1177.1,694.0 1185.6,661.0 1195.0,620.0 1207.6,575.0 1220.8,530.0 1231.0,492.0 1241.1,454.0 1257.6,406.0 1265.9,386.3 1268.3,386.7 1270.8,386.3 1273.6,386.5 1276.4,385.1 1279.2,384.9 1282.1,383.8 1284.9,383.6 1287.7,383.0 1290.5,382.1 1291.9,383.6 1293.3,384.9 1296.1,384.6 1298.9,383.4 1301.7,382.7 1304.6,382.4 1307.4,382.1 1310.2,381.3 1313.0,380.6 1315.8,379.1 1318.6,379.2 1321.4,377.8 1324.3,377.1 1327.1,376.4 1328.5,379.2 1330.8,377.4 1333.2,375.5 1335.5,373.6 1337.9,372.9 1340.2,372.2 1342.5,371.5 1345.4,370.7 1348.2,370.1 1351.0,369.5 1353.8,368.7 1356.6,368.0 1359.4,367.6 1362.2,367.4 1365.1,366.8 1367.9,365.5 1370.7,365.2 1373.5,365.0 1376.3,364.5 1379.1,363.8 1381.9,363.9 1384.7,363.1 1387.6,363.1 1390.4,362.7 1393.2,362.4 1396.0,361.8 1398.8,360.9 1401.6,360.4 1404.4,360.0 1407.3,359.9 1410.1,358.7 1412.9,358.1 1415.2,356.8 1417.6,356.3 1419.9,355.3 1422.3,353.7 1424.6,352.4 1427.0,351.1 1429.1,349.6 1431.2,348.3 1432.4,347.6 1430.5,352.5 1428.6,357.4 1426.8,362.4 1425.0,367.4 1423.2,372.4 1421.4,377.5 1419.6,382.6 1417.8,387.7 1416.0,392.8 1414.2,397.9 1412.3,403.1 1410.5,408.2 1408.6,413.3 1406.7,418.4 1404.7,423.5 1402.8,428.6 1400.7,433.7 1398.7,438.7 1396.6,443.7 1394.4,448.7 1392.1,453.6 1389.8,458.5 1387.5,463.4 1385.0,468.2 1382.5,472.9 1379.9,477.7 1377.3,482.3 1374.5,486.9 1371.7,491.4 1368.7,495.9 1365.6,500.2 1362.5,504.5 1359.2,508.7 1355.8,512.7 1352.2,516.7 1348.6,520.5 1344.8,524.1 1340.8,527.6 1336.8,530.9 1332.4,534.0 1328.0,536.9 1323.3,539.5 1318.5,542.0 1313.6,544.2 1308.5,546.1 1303.3,547.9 1297.9,549.5 1292.5,550.9 1287.1,552.3 1281.6,553.6 1276.1,554.9 1270.7,556.3 1265.4,557.7 1260.2,559.2 1255.0,560.8 1250.0,562.4 1244.9,564.0 1239.9,565.5 1234.9,566.9 1215.0,571.0 1195.5,620.0 1186.2,661.0 1177.7,694.0 1171.7,718.5 1166.6,731.6 1160.0,741.5 1154.6,746.0" fill="none" stroke="#00ff00" stroke-width="3.5" stroke-linejoin="round" stroke-linecap="round"/>
<polyline points="1154.6,746.0 1160.0,741.5 1166.6,731.6 1171.7,718.5 1177.7,694.0 1186.2,661.0 1195.5,620.0 1208.7,575.0 1222.5,530.0 1232.8,492.0 1242.9,454.0 1258.6,410.0 1265.2,393.3 1267.5,392.7 1269.9,391.4 1272.2,390.5 1275.0,389.5 1277.8,389.1 1280.6,389.1 1283.5,388.1 1286.3,387.7 1289.1,386.3 1289.8,388.4 1290.5,390.5 1293.8,390.2 1297.1,389.1 1300.3,389.1 1303.2,388.4 1306.0,387.4 1308.8,387.5 1311.6,387.4 1314.4,386.3 1317.2,384.8 1320.0,383.3 1322.8,382.1 1324.3,383.3 1325.7,384.9 1327.5,383.4 1329.4,381.9 1331.3,380.6 1334.1,379.6 1336.9,379.1 1339.7,378.6 1342.5,377.8 1345.4,376.8 1348.2,375.9 1351.0,375.9 1353.8,374.5 1356.6,373.6 1359.4,373.1 1362.2,371.9 1365.1,371.8 1367.9,371.7 1370.7,370.8 1373.5,370.0 1376.3,369.6 1379.1,369.1 1381.9,368.6 1384.7,368.0 1387.6,367.6 1390.4,367.1 1393.2,366.3 1396.0,366.5 1398.8,365.9 1401.6,366.1 1404.4,364.3 1407.3,363.7 1410.1,363.1 1412.9,362.4 1415.2,360.5 1417.6,359.6 1419.9,358.1 1422.3,356.2 1424.6,354.5 1427.0,352.5 1429.3,351.7 1431.6,351.5 1434.0,351.1 1436.8,350.5 1439.6,349.5 1442.4,349.0 1445.2,347.7 1448.1,347.6 1450.0,346.3 1452.8,345.6 1455.6,345.7 1458.4,345.2 1461.3,344.9 1464.1,344.2 1467.4,343.3 1470.6,343.5 1473.9,342.8 1475.0,344.5 1476.0,346.3 1479.1,344.8 1482.1,342.6 1485.2,341.3 1488.0,340.5 1490.8,339.8 1493.6,339.0 1496.4,337.9 1499.2,337.1 1502.1,336.6 1504.9,335.7 1507.7,335.6 1510.5,334.9 1513.3,334.3 1516.1,334.0 1518.9,333.9 1521.7,333.1 1524.6,332.9 1524.1,332.9 1522.7,338.0 1521.3,343.0 1519.7,347.9 1518.1,352.9 1516.4,357.8 1514.6,362.7 1512.8,367.5 1510.8,372.4 1508.9,377.2 1506.9,382.0 1504.8,386.8 1502.7,391.6 1500.6,396.4 1498.5,401.2 1496.3,406.0 1494.1,410.7 1492.0,415.5 1489.7,420.3 1487.5,425.1 1485.3,429.8 1483.0,434.6 1480.6,439.3 1478.3,444.0 1475.8,448.7 1473.4,453.3 1470.9,457.9 1468.3,462.5 1465.7,467.0 1462.9,471.5 1460.2,475.9 1457.3,480.2 1454.4,484.5 1451.3,488.7 1448.2,492.9 1445.1,497.0 1441.8,501.0 1438.4,504.9 1435.0,508.8 1431.5,512.5 1427.8,516.2 1424.1,519.8 1420.3,523.2 1416.4,526.6 1412.4,529.8 1408.4,532.9 1404.2,535.9 1400.0,538.7 1395.6,541.4 1391.2,544.0 1386.6,546.4 1382.0,548.7 1377.2,550.9 1372.4,552.9 1367.5,554.7 1362.5,556.4 1357.4,558.0 1352.2,559.4 1347.0,560.6 1341.7,561.7 1329.5,564.5 1326.2,564.4 1322.9,565.7 1319.7,566.2 1316.4,566.5 1313.1,566.9 1309.8,567.1 1306.5,568.1 1303.2,568.7 1300.0,568.5 1296.7,568.6 1293.4,568.4 1290.1,569.0 1286.8,568.7 1283.6,568.6 1280.3,568.8 1277.0,569.5 1273.7,569.7 1270.4,570.8 1267.1,571.2 1263.9,571.0 1260.6,571.5 1257.3,571.7 1254.0,572.0 1250.7,572.3 1247.4,572.7 1244.2,572.7 1240.9,573.5 1237.6,573.6 1234.3,574.7 1231.0,574.6 1210.0,577.0 1196.5,620.0 1187.1,661.0 1178.6,694.0 1172.6,718.5 1167.4,731.6 1160.8,741.5 1155.4,746.0" fill="none" stroke="#0000ff" stroke-width="3.5" stroke-linejoin="round" stroke-linecap="round"/>
<polyline points="1155.4,746.0 1160.8,741.5 1167.4,731.6 1172.6,718.5 1178.6,694.0 1187.1,661.0 1196.5,620.0 1210.1,575.0 1224.3,530.0 1234.5,492.0 1244.6,454.0 1260.1,413.0 1265.9,397.5 1269.0,396.7 1272.2,396.1 1275.0,394.6 1277.8,394.9 1280.6,393.4 1283.5,393.0 1286.3,392.6 1288.4,393.9 1290.5,395.4 1293.8,395.2 1297.1,393.9 1300.3,393.3 1303.2,392.6 1306.0,392.3 1308.8,391.4 1311.6,392.0 1314.4,390.5 1317.2,389.2 1320.0,389.0 1322.8,387.7 1325.0,388.4 1327.1,389.1 1329.2,387.6 1331.3,386.3 1334.1,385.6 1336.9,385.1 1339.7,383.9 1342.5,383.5 1345.4,382.4 1348.2,381.9 1351.0,381.0 1353.8,379.6 1356.6,379.2 1359.4,378.7 1362.2,378.0 1365.1,377.9 1367.9,376.9 1370.7,376.4 1373.5,375.6 1376.3,374.8 1379.1,374.4 1381.9,374.1 1384.7,373.6 1387.6,373.5 1390.4,371.9 1393.2,372.2 1396.0,372.0 1398.8,370.8 1401.6,370.4 1404.4,369.6 1407.3,369.4 1410.1,368.6 1412.9,368.0 1415.2,366.2 1417.6,365.3 1419.9,363.8 1422.3,362.1 1424.6,361.2 1427.0,359.5 1429.8,359.2 1432.6,358.7 1435.4,358.3 1438.2,356.8 1441.0,356.7 1450.0,356.1 1453.0,355.6 1456.1,354.5 1459.1,354.4 1462.2,354.0 1465.2,353.7 1468.3,352.6 1469.0,354.4 1469.7,356.1 1472.5,354.9 1475.3,353.5 1478.1,351.9 1480.9,351.1 1483.8,350.0 1486.6,349.3 1489.4,348.7 1492.2,347.7 1495.0,346.6 1497.8,345.9 1500.6,345.4 1503.5,344.7 1506.3,343.5 1508.7,342.8 1511.2,341.3 1513.7,340.2 1516.1,338.5 1518.9,337.0 1521.7,335.3 1524.6,333.6 1525.1,332.9 1523.7,338.0 1522.3,343.0 1520.7,347.9 1519.1,352.9 1517.4,357.8 1515.7,362.7 1513.8,367.6 1512.0,372.5 1510.0,377.3 1508.0,382.2 1506.0,387.0 1503.9,391.8 1501.9,396.6 1499.7,401.4 1497.6,406.2 1495.5,411.0 1493.3,415.9 1491.1,420.7 1488.9,425.4 1486.7,430.2 1484.4,435.0 1482.1,439.7 1479.7,444.5 1477.3,449.2 1474.9,453.8 1472.4,458.5 1469.9,463.0 1467.2,467.6 1464.6,472.1 1461.9,476.6 1459.1,481.1 1456.2,485.4 1453.3,489.8 1450.2,494.0 1447.1,498.2 1443.9,502.3 1440.6,506.4 1437.2,510.3 1433.8,514.2 1430.2,517.9 1426.5,521.6 1422.8,525.1 1418.9,528.5 1415.0,531.8 1410.8,535.0 1406.6,538.1 1402.2,541.0 1397.7,543.8 1393.2,546.5 1388.5,549.0 1383.8,551.3 1379.0,553.5 1374.0,555.6 1369.0,557.5 1364.0,559.3 1358.8,560.9 1353.6,562.3 1348.3,563.6 1343.0,564.7 1329.5,567.1 1326.2,567.0 1322.9,568.3 1319.7,568.8 1316.4,569.1 1313.1,569.5 1309.8,569.7 1306.5,570.7 1303.2,571.3 1300.0,571.1 1296.7,571.2 1293.4,571.0 1290.1,571.6 1286.8,571.3 1283.6,571.2 1280.3,571.4 1277.0,572.1 1273.7,572.3 1270.4,573.4 1267.1,573.8 1263.9,573.6 1260.6,574.1 1257.3,574.3 1254.0,574.6 1250.7,574.9 1247.4,575.3 1244.2,575.3 1240.9,576.1 1237.6,576.2 1234.3,577.3 1231.0,577.2 1210.0,580.0 1198.5,620.0 1189.0,661.0 1180.4,694.0 1174.3,718.5 1169.2,731.6 1162.6,741.5 1157.1,746.0" fill="none" stroke="#0000ff" stroke-width="3.5" stroke-linejoin="round" stroke-linecap="round"/>
<polyline points="1157.1,746.0 1162.6,741.5 1169.2,731.6 1174.3,718.5 1180.4,694.0 1189.0,661.0 1198.5,620.0 1212.2,575.0 1226.5,530.0 1236.6,492.0 1246.6,454.0 1261.6,416.0 1267.3,404.5 1270.4,403.5 1273.6,403.3 1276.8,402.4 1279.9,401.6 1283.1,400.0 1286.3,399.5 1289.4,398.6 1292.5,397.9 1295.7,397.5 1298.8,396.9 1301.9,396.1 1305.0,395.7 1308.2,394.2 1311.3,393.6 1314.4,393.2 1317.2,392.8 1320.0,392.5 1322.8,392.0 1325.7,391.5 1328.5,391.1 1331.3,390.5 1334.1,389.3 1336.9,389.5 1339.7,389.0 1342.5,387.9 1345.7,387.2 1348.8,386.9 1351.9,386.2 1355.0,386.0 1358.2,386.1 1361.3,384.9 1364.4,384.0 1367.6,384.2 1370.7,383.1 1373.8,382.9 1376.9,381.9 1380.1,381.8 1383.2,380.7 1386.3,380.1 1389.4,379.1 1392.6,379.1 1395.7,378.6 1398.8,378.0 1401.6,377.5 1404.4,376.7 1407.3,376.0 1410.1,375.0 1412.9,374.2 1415.7,373.5 1418.5,372.7 1421.3,371.7 1424.1,370.2 1427.0,369.3 1429.8,369.0 1432.6,368.2 1435.4,367.3 1438.2,367.7 1441.0,366.5 1450.0,364.5 1453.4,364.6 1456.8,365.1 1460.1,364.1 1463.5,364.3 1466.9,364.5 1469.7,363.2 1472.5,362.3 1475.3,361.4 1478.1,360.2 1480.9,359.7 1483.8,358.4 1486.6,357.7 1489.4,357.2 1492.2,356.0 1495.0,355.4 1497.8,354.7 1500.6,353.8 1503.5,352.1 1506.3,351.8 1509.1,350.4 1511.9,349.1 1514.7,347.1 1517.5,346.1 1520.3,344.8 1523.2,344.0 1526.0,343.0 1528.8,342.5 1531.6,341.7 1534.4,341.3 1537.2,341.1 1540.0,340.0 1542.8,339.2 1545.7,339.3 1548.5,338.4 1551.3,338.1 1554.1,337.6 1556.9,337.3 1559.7,337.2 1562.5,336.3 1565.8,335.5 1569.1,335.7 1572.4,334.9 1573.8,337.7 1576.3,337.0 1578.7,336.1 1581.2,334.6 1583.6,333.5 1586.5,332.5 1589.3,331.8 1592.1,331.1 1594.9,329.7 1597.7,329.3 1600.5,327.6 1603.3,326.8 1606.2,326.1 1609.0,324.9 1611.8,323.7 1614.6,322.4 1617.4,321.6 1616.8,323.1 1614.9,328.4 1613.1,333.6 1611.2,339.0 1609.3,344.3 1607.3,349.6 1605.3,355.0 1603.4,360.4 1601.3,365.8 1599.3,371.1 1597.2,376.5 1595.1,381.9 1592.9,387.3 1590.8,392.7 1588.5,398.0 1586.2,403.4 1583.9,408.7 1581.5,414.0 1579.1,419.3 1576.6,424.5 1574.0,429.7 1571.4,434.9 1568.7,440.0 1566.0,445.1 1563.1,450.2 1560.2,455.2 1557.3,460.1 1554.2,465.0 1551.1,469.8 1547.9,474.5 1544.6,479.1 1541.1,483.7 1537.7,488.2 1534.1,492.6 1530.4,496.9 1526.6,501.1 1522.7,505.3 1518.8,509.3 1514.7,513.3 1510.6,517.1 1506.3,520.8 1502.0,524.5 1497.6,528.0 1493.1,531.3 1488.6,534.6 1484.0,537.7 1479.3,540.7 1474.5,543.5 1469.6,546.2 1464.6,548.8 1459.5,551.1 1454.3,553.4 1449.1,555.5 1443.7,557.4 1438.2,559.1 1432.6,560.6 1427.0,562.0 1421.2,563.2 1415.4,564.2 1409.4,565.0 1403.4,568.8 1400.1,569.4 1396.8,568.8 1393.5,569.6 1390.2,569.5 1387.0,569.6 1383.7,569.4 1380.4,570.1 1377.1,570.0 1373.8,569.7 1370.5,570.4 1367.3,571.2 1364.0,570.9 1360.7,571.7 1357.4,572.0 1354.1,572.0 1350.8,572.2 1347.6,572.5 1344.3,572.9 1341.0,573.1 1337.7,573.7 1334.4,574.3 1331.1,574.1 1327.9,574.3 1324.6,574.7 1321.3,574.5 1318.0,574.8 1314.7,574.9 1311.5,575.3 1308.2,575.3 1305.3,574.2 1302.4,574.1 1299.6,573.3 1296.7,572.9 1293.4,573.5 1290.1,573.7 1286.8,574.1 1283.6,573.4 1280.3,573.7 1277.0,574.5 1273.7,575.1 1270.4,575.0 1267.1,575.8 1263.9,576.1 1260.6,576.6 1257.3,577.1 1254.0,577.9 1250.7,578.5 1247.4,579.4 1244.5,579.8 1241.5,579.8 1238.6,580.4 1235.6,580.7 1232.7,581.1 1230.2,583.1 1227.7,584.3 1208.0,588.0 1201.0,620.0 1191.3,661.0 1182.6,694.0 1176.4,718.5 1171.2,731.6 1164.6,741.5 1159.1,746.0" fill="none" stroke="#00ffff" stroke-width="3.5" stroke-linejoin="round" stroke-linecap="round"/>
<polyline points="1159.1,746.0 1164.6,741.5 1171.2,731.6 1176.4,718.5 1182.6,694.0 1191.3,661.0 1201.0,620.0 1214.7,575.0 1229.0,530.0 1239.1,492.0 1249.1,454.0 1263.1,420.0 1267.3,407.6 1270.4,406.6 1273.6,406.4 1276.8,405.5 1279.9,404.7 1283.1,403.1 1286.3,402.6 1289.4,401.7 1292.5,401.0 1295.7,400.6 1298.8,400.0 1301.9,399.2 1305.0,398.8 1308.2,397.3 1311.3,396.7 1314.4,396.3 1317.2,395.9 1320.0,395.6 1322.8,395.1 1325.7,394.6 1328.5,394.2 1331.3,393.6 1334.1,392.4 1336.9,392.6 1339.7,392.1 1342.5,391.0 1345.7,390.3 1348.8,390.0 1351.9,389.3 1355.0,389.1 1358.2,389.2 1361.3,388.0 1364.4,387.1 1367.6,387.3 1370.7,386.2 1373.8,386.0 1376.9,385.0 1380.1,384.9 1383.2,383.8 1386.3,383.2 1389.4,382.2 1392.6,382.2 1395.7,381.7 1398.8,381.1 1401.6,380.6 1404.4,379.8 1407.3,379.1 1410.1,378.1 1412.9,377.3 1415.7,376.6 1418.5,375.8 1421.3,374.8 1424.1,373.3 1427.0,372.4 1429.8,372.1 1432.6,371.3 1435.4,370.4 1438.2,370.8 1441.0,369.6 1450.0,367.6 1453.4,367.7 1456.8,368.2 1460.1,367.2 1463.5,367.4 1466.9,367.6 1469.7,366.3 1472.5,365.4 1475.3,364.5 1478.1,363.3 1480.9,362.8 1483.8,361.5 1486.6,360.8 1489.4,360.3 1492.2,359.1 1495.0,358.5 1497.8,357.8 1500.6,356.9 1503.5,355.2 1506.3,354.9 1509.1,353.5 1511.9,352.2 1514.7,350.2 1517.5,349.2 1520.3,347.9 1523.2,347.1 1526.0,346.1 1528.8,345.6 1531.6,344.8 1534.4,344.4 1537.2,344.2 1540.0,343.1 1542.8,342.3 1545.7,342.4 1548.5,341.5 1551.3,341.2 1554.1,340.7 1556.9,340.4 1559.7,340.3 1562.5,339.4 1565.8,338.6 1569.1,338.8 1572.4,338.0 1573.8,340.8 1576.3,340.1 1578.7,339.2 1581.2,337.7 1583.6,336.6 1586.5,335.6 1589.3,334.9 1592.1,334.2 1594.9,332.8 1597.7,332.4 1600.5,330.7 1603.3,329.9 1606.2,329.2 1609.0,328.0 1611.8,326.8 1614.6,325.5 1617.4,324.7 1618.0,323.1 1616.1,328.4 1614.3,333.6 1612.4,339.0 1610.5,344.3 1608.6,349.7 1606.6,355.1 1604.7,360.5 1602.7,365.9 1600.6,371.3 1598.6,376.7 1596.5,382.1 1594.4,387.5 1592.2,392.9 1590.0,398.3 1587.7,403.7 1585.4,409.0 1583.0,414.3 1580.6,419.6 1578.2,424.9 1575.6,430.1 1573.0,435.3 1570.4,440.5 1567.6,445.6 1564.8,450.7 1562.0,455.7 1559.0,460.6 1556.0,465.5 1552.9,470.4 1549.7,475.2 1546.5,479.9 1543.1,484.6 1539.7,489.2 1536.2,493.7 1532.5,498.1 1528.8,502.5 1525.0,506.7 1521.1,510.9 1517.1,514.9 1513.0,518.8 1508.8,522.7 1504.6,526.4 1500.2,529.9 1495.6,533.4 1491.0,536.7 1486.3,539.9 1481.4,543.0 1476.5,545.9 1471.5,548.6 1466.4,551.3 1461.2,553.7 1455.9,556.0 1450.6,558.1 1445.1,560.1 1439.6,561.9 1434.0,563.4 1428.2,564.9 1422.4,566.1 1416.5,567.1 1410.6,568.0 1403.4,570.9 1400.1,571.5 1396.8,571.2 1393.5,571.3 1390.2,571.3 1387.0,571.7 1383.7,572.3 1380.4,572.1 1377.1,572.2 1373.8,571.8 1370.5,572.5 1367.3,572.7 1364.0,573.3 1360.7,574.0 1357.4,573.9 1354.1,574.2 1350.8,573.8 1347.6,574.7 1344.3,575.5 1341.0,575.6 1337.7,575.8 1334.4,576.3 1331.1,575.4 1327.9,576.9 1324.6,576.8 1321.3,576.6 1318.0,576.8 1314.7,576.9 1311.5,577.0 1308.2,577.0 1304.9,577.5 1301.6,576.8 1298.3,578.1 1295.0,577.5 1291.8,577.7 1288.5,578.5 1285.2,579.1 1281.9,579.2 1278.6,579.7 1275.3,579.5 1272.1,580.4 1268.8,581.1 1265.5,581.9 1262.2,582.5 1258.9,582.8 1255.7,583.7 1252.4,584.7 1249.1,585.2 1245.8,585.8 1242.5,586.5 1239.2,587.8 1236.0,588.6 1232.7,589.3 1229.4,590.3 1208.0,596.0 1203.5,620.0 1194.0,661.0 1185.4,694.0 1179.3,718.5 1174.2,731.6 1167.6,741.5 1162.1,746.0" fill="none" stroke="#00ffff" stroke-width="3.5" stroke-linejoin="round" stroke-linecap="round"/>
<polyline points="1162.1,746.0 1167.6,741.5 1174.2,731.6 1179.3,718.5 1185.4,694.0 1194.0,661.0 1203.5,620.0 1217.2,575.0 1231.5,530.0 1241.6,492.0 1251.6,454.0 1264.6,424.0 1268.0,414.4 1270.3,413.2 1272.7,411.5 1275.0,410.2 1277.4,410.0 1279.7,409.1 1282.1,409.5 1284.2,411.2 1286.3,413.0 1289.1,412.0 1291.9,411.0 1294.7,410.0 1297.5,408.5 1300.3,407.4 1303.2,406.7 1306.0,405.6 1308.8,405.1 1311.6,404.2 1314.4,403.2 1317.2,402.2 1320.0,401.1 1322.8,400.3 1325.0,401.8 1327.1,403.2 1329.2,402.8 1331.3,401.7 1334.1,401.0 1336.9,400.6 1339.7,399.3 1342.5,398.9 1345.4,397.8 1348.2,397.7 1351.0,396.7 1353.8,396.1 1356.6,395.4 1359.4,394.7 1362.2,394.4 1365.1,394.1 1367.9,393.1 1370.7,392.6 1373.5,392.3 1376.3,390.5 1379.1,391.1 1381.9,390.9 1384.7,389.8 1387.6,390.4 1390.4,388.7 1393.2,387.9 1396.0,388.3 1398.8,387.7 1401.6,386.7 1404.4,385.6 1407.3,384.8 1410.1,384.2 1412.5,383.2 1415.0,382.0 1417.5,380.8 1419.9,379.9 1422.3,379.5 1424.6,378.3 1427.0,377.8 1429.8,376.6 1432.6,376.6 1435.4,376.1 1438.2,375.7 1441.0,375.0 1450.0,373.0 1452.8,372.5 1455.6,372.3 1458.4,371.3 1461.3,371.0 1464.1,370.9 1465.5,372.4 1466.9,373.7 1469.7,372.8 1472.5,371.6 1475.3,370.6 1478.1,369.5 1480.9,368.4 1483.8,367.6 1486.6,366.8 1489.4,365.9 1492.2,365.3 1495.0,364.5 1497.8,363.4 1500.6,362.5 1503.5,361.7 1506.3,360.3 1508.6,359.4 1511.0,358.3 1513.3,357.5 1516.1,356.9 1518.9,356.4 1521.7,354.9 1524.6,354.9 1527.4,354.0 1530.2,354.3 1533.0,354.2 1535.8,352.8 1538.6,352.2 1541.4,351.9 1544.3,351.4 1547.1,351.2 1549.9,349.7 1552.7,349.7 1555.5,349.1 1558.3,348.8 1561.1,348.3 1564.0,347.7 1566.8,347.7 1568.2,348.8 1569.6,350.5 1571.9,349.0 1574.3,347.8 1576.6,346.3 1579.4,344.9 1582.2,344.3 1585.1,344.0 1587.9,343.1 1590.7,342.1 1593.5,341.1 1596.3,339.6 1599.1,338.7 1601.9,337.4 1604.7,336.4 1607.1,334.6 1609.4,332.7 1611.8,330.8 1614.1,329.3 1616.5,328.4 1618.8,327.3 1621.6,326.5 1624.4,325.0 1627.3,324.4 1630.1,323.2 1632.9,322.4 1635.7,321.2 1638.5,320.4 1641.3,320.2 1644.1,318.4 1647.0,317.4 1649.8,316.8 1652.6,315.6 1655.4,314.4 1658.2,313.8 1661.0,312.5 1676.4,308.2 1679.1,307.0 1681.9,306.1 1684.6,304.9 1687.4,304.0 1690.1,302.8 1692.8,301.6 1695.7,300.3 1698.6,299.3 1701.4,298.6 1704.3,297.4 1707.2,295.9 1710.1,295.0 1710.9,295.9 1708.6,302.4 1706.4,308.9 1704.0,315.5 1701.7,322.1 1699.3,328.6 1696.8,335.3 1694.3,341.9 1691.8,348.5 1689.2,355.1 1686.5,361.7 1683.8,368.3 1681.1,374.9 1678.2,381.4 1675.3,387.9 1672.3,394.4 1669.3,400.9 1666.1,407.3 1662.9,413.7 1659.6,420.0 1656.3,426.3 1652.8,432.5 1649.3,438.6 1645.6,444.7 1641.9,450.7 1638.0,456.6 1634.1,462.4 1630.0,468.2 1625.9,473.8 1621.6,479.4 1617.2,484.9 1612.7,490.2 1608.1,495.4 1603.4,500.5 1598.5,505.5 1593.5,510.4 1588.4,515.1 1583.2,519.7 1577.9,524.2 1572.4,528.5 1566.9,532.7 1561.2,536.7 1555.4,540.6 1549.5,544.3 1543.5,547.8 1537.4,551.2 1531.2,554.4 1525.0,557.4 1518.6,560.3 1512.1,563.0 1505.5,565.4 1498.9,567.7 1492.2,569.9 1485.3,571.8 1478.4,573.5 1471.5,575.0 1464.4,576.2 1457.3,577.3 1450.1,578.2 1442.8,578.8 1430.0,579.6 1426.6,579.8 1423.2,579.7 1419.8,580.4 1416.5,580.9 1413.2,580.7 1409.9,580.9 1406.6,581.8 1403.4,582.1 1400.5,582.0 1397.6,582.0 1394.7,584.0 1391.9,582.9 1389.4,581.8 1387.0,580.4 1383.7,580.5 1380.4,580.9 1377.1,581.1 1373.8,580.9 1370.5,581.3 1367.3,581.2 1364.0,581.3 1360.7,580.8 1357.4,581.4 1354.1,581.3 1350.8,581.3 1347.6,581.5 1344.3,582.5 1341.0,582.5 1337.7,582.9 1334.4,583.4 1331.1,583.5 1327.9,584.5 1324.6,584.0 1321.3,584.5 1318.0,585.6 1314.7,586.2 1311.5,586.9 1308.2,587.0 1304.9,587.8 1301.6,588.5 1298.3,589.4 1295.0,589.8 1291.8,590.5 1288.5,591.1 1285.2,591.6 1281.9,591.9 1278.6,592.3 1275.3,592.7 1272.1,593.6 1268.8,594.2 1265.5,594.2 1262.2,595.0 1258.9,596.3 1255.7,596.9 1252.4,597.6 1249.1,598.5 1245.8,599.1 1242.5,599.3 1239.2,599.0 1236.0,598.5 1233.5,600.4 1231.0,602.1 1228.6,604.2 1226.1,605.9 1207.0,612.0 1207.0,620.0 1197.3,661.0 1188.6,694.0 1182.4,718.5 1177.2,731.6 1170.6,741.5 1165.1,746.0" fill="none" stroke="#ff00ff" stroke-width="3.5" stroke-linejoin="round" stroke-linecap="round"/>
<polyline points="1165.1,746.0 1170.6,741.5 1177.2,731.6 1182.4,718.5 1188.6,694.0 1197.3,661.0 1207.0,620.0 1220.2,575.0 1234.0,530.0 1244.2,492.0 1254.4,454.0 1266.6,428.0 1269.4,417.2 1271.7,416.7 1274.1,415.4 1276.4,414.4 1279.6,414.7 1282.8,414.5 1285.9,415.6 1289.1,415.1 1291.9,414.6 1294.7,414.2 1297.5,413.9 1300.3,413.0 1303.2,412.1 1306.0,411.9 1308.8,411.2 1311.6,410.3 1314.4,409.5 1317.2,408.6 1320.0,407.5 1322.8,407.8 1325.7,406.7 1328.5,408.1 1331.3,407.7 1334.1,406.2 1336.9,406.0 1339.7,404.1 1342.5,403.9 1345.4,402.8 1348.2,402.8 1351.0,402.2 1353.8,401.3 1356.6,401.0 1359.4,400.6 1362.2,400.0 1365.1,399.1 1367.9,398.8 1370.7,398.2 1373.5,396.9 1376.3,397.8 1379.1,397.0 1381.9,396.4 1384.7,396.1 1387.6,395.0 1390.4,395.9 1393.2,394.8 1396.0,394.6 1398.8,394.0 1401.6,393.1 1404.4,392.3 1407.3,391.7 1410.1,391.4 1412.9,390.5 1415.7,389.3 1418.5,388.4 1421.3,388.1 1424.1,387.2 1427.0,386.3 1429.8,385.5 1432.6,384.7 1435.4,384.3 1438.2,383.8 1441.0,383.5 1450.0,382.8 1453.1,382.3 1456.2,381.0 1459.3,380.3 1462.4,380.2 1465.5,379.3 1466.9,380.8 1468.3,382.1 1471.6,380.8 1474.9,379.9 1478.1,378.6 1480.9,377.8 1483.8,377.0 1486.6,375.7 1489.4,375.4 1492.2,374.4 1495.0,372.9 1497.8,372.8 1500.6,372.1 1503.5,371.6 1506.3,370.2 1508.6,368.8 1511.0,367.5 1513.3,366.0 1515.7,364.7 1518.0,363.7 1520.3,363.2 1523.2,363.0 1526.0,361.9 1528.8,361.6 1531.6,361.1 1534.4,360.3 1537.2,359.0 1540.0,358.7 1542.8,358.8 1545.7,358.3 1548.5,357.5 1551.3,356.9 1554.1,356.2 1556.9,355.2 1559.7,354.8 1562.5,354.0 1564.9,352.8 1567.2,353.0 1569.6,351.9 1571.0,354.0 1572.4,356.1 1575.2,355.0 1578.0,353.1 1580.8,351.7 1583.6,350.5 1586.5,349.9 1589.3,349.5 1592.1,347.5 1594.9,347.4 1597.7,346.3 1600.1,345.0 1602.4,343.2 1604.7,342.1 1607.1,340.4 1609.4,339.1 1611.8,337.8 1614.6,336.6 1617.4,335.7 1620.2,335.5 1623.0,334.7 1625.8,333.6 1628.7,332.7 1631.5,332.3 1634.3,331.1 1637.1,330.3 1639.9,329.4 1642.7,328.9 1645.5,327.9 1648.4,326.8 1651.2,326.3 1654.0,325.2 1660.0,321.3 1663.3,320.7 1666.6,319.6 1669.8,318.9 1673.1,317.0 1676.4,316.4 1679.1,314.8 1681.9,313.6 1684.6,312.5 1687.4,311.0 1690.1,309.5 1692.8,308.2 1695.7,306.6 1698.6,304.8 1701.4,303.3 1704.3,301.6 1706.5,300.0 1708.7,298.3 1710.9,296.7 1710.9,295.9 1708.9,302.5 1706.8,309.1 1704.6,315.8 1702.4,322.4 1700.2,329.1 1697.9,335.8 1695.5,342.5 1693.0,349.2 1690.5,355.9 1688.0,362.7 1685.3,369.3 1682.6,376.0 1679.8,382.7 1676.9,389.3 1674.0,395.9 1670.9,402.4 1667.8,409.0 1664.6,415.4 1661.3,421.8 1657.9,428.2 1654.4,434.5 1650.9,440.8 1647.2,446.9 1643.4,453.0 1639.6,459.0 1635.6,464.9 1631.5,470.8 1627.3,476.5 1623.0,482.2 1618.6,487.7 1614.1,493.1 1609.5,498.4 1604.7,503.6 1599.9,508.7 1594.9,513.6 1589.8,518.4 1584.6,523.1 1579.2,527.6 1573.8,532.0 1568.2,536.2 1562.6,540.3 1556.8,544.2 1550.9,547.9 1544.9,551.5 1538.8,554.9 1532.6,558.1 1526.3,561.2 1519.9,564.0 1513.4,566.6 1506.8,569.1 1500.0,571.3 1493.2,573.4 1486.3,575.2 1479.3,576.8 1472.2,578.2 1465.0,579.4 1457.7,580.3 1450.3,581.0 1442.8,581.5 1430.0,581.8 1426.6,582.0 1423.2,581.9 1419.8,582.6 1416.5,583.1 1413.2,582.9 1409.9,583.1 1406.6,584.0 1403.4,584.3 1400.5,584.2 1397.6,584.2 1394.7,586.2 1391.9,585.1 1389.4,584.0 1387.0,582.6 1383.7,582.7 1380.4,583.1 1377.1,583.3 1373.8,583.1 1370.5,583.5 1367.3,583.4 1364.0,583.5 1360.7,583.0 1357.4,583.6 1354.1,583.5 1350.8,583.5 1347.6,583.7 1344.3,584.7 1341.0,584.7 1337.7,585.1 1334.4,585.6 1331.1,585.7 1327.9,586.7 1324.6,586.2 1321.3,586.7 1318.0,587.8 1314.7,588.4 1311.5,589.1 1308.2,589.2 1304.9,590.0 1301.6,590.7 1298.3,591.6 1295.0,592.0 1291.8,592.7 1288.5,593.3 1285.2,593.8 1281.9,594.1 1278.6,594.5 1275.3,594.9 1272.1,595.8 1268.8,596.4 1265.5,596.4 1262.2,597.2 1258.9,598.5 1255.7,599.1 1252.4,599.8 1249.1,600.7 1245.8,601.3 1242.5,601.5 1239.2,601.2 1236.0,600.7 1233.5,602.6 1231.0,604.3 1228.6,606.4 1226.1,608.1 1207.0,616.0 1200.5,661.0 1192.3,694.0 1186.5,718.5 1181.5,731.6 1175.0,741.5 1169.6,746.0" fill="none" stroke="#ff00ff" stroke-width="3.5" stroke-linejoin="round" stroke-linecap="round"/>
<polyline points="1169.6,746.0 1175.0,741.5 1181.5,731.6 1186.5,718.5 1192.3,694.0 1200.5,661.0 1209.5,620.0 1222.7,575.0 1236.5,530.0 1247.6,492.0 1258.6,454.0 1262.3,445.0 1267.1,432.8 1272.8,423.8 1279.2,418.6 1281.6,417.9 1283.9,417.6 1286.3,416.5 1287.7,418.4 1289.1,420.0 1291.9,419.3 1294.7,419.2 1297.5,418.5 1300.3,417.9 1303.2,417.6 1306.0,416.5 1308.8,416.2 1311.6,415.0 1314.4,414.4 1317.2,413.2 1320.0,412.6 1322.8,411.3 1325.7,410.2 1327.1,411.8 1328.5,413.0 1331.3,412.0 1334.1,411.3 1336.9,410.7 1339.7,408.9 1342.5,408.8 1345.4,408.1 1348.2,408.0 1351.0,407.5 1353.8,406.8 1356.6,406.0 1359.4,405.6 1362.2,404.9 1365.1,404.6 1367.9,403.7 1370.7,403.2 1373.5,402.8 1376.3,402.5 1379.1,401.9 1381.9,401.2 1384.7,401.0 1387.6,401.2 1390.4,400.0 1393.2,399.8 1396.0,399.5 1398.8,398.9 1401.6,397.7 1404.4,397.6 1407.3,396.9 1410.1,395.5 1412.9,395.4 1415.7,394.7 1418.5,393.6 1421.3,392.9 1424.1,392.2 1427.0,391.2 1429.8,390.6 1432.6,390.6 1435.4,390.3 1438.2,389.1 1441.0,388.4 1450.0,386.4 1452.8,386.2 1455.6,385.9 1458.4,385.2 1461.3,384.6 1464.1,384.3 1466.9,384.4 1469.7,383.2 1472.5,382.7 1475.3,382.5 1478.1,382.1 1480.9,381.8 1483.8,380.3 1486.6,380.1 1489.4,379.3 1492.2,378.6 1495.0,378.1 1497.8,377.0 1500.6,376.2 1503.5,375.6 1506.3,374.4 1509.1,374.0 1511.9,373.1 1514.7,371.5 1517.5,371.8 1520.3,370.9 1523.2,370.1 1526.0,370.1 1528.8,369.4 1531.6,369.0 1534.4,368.8 1537.2,367.7 1540.0,367.8 1542.8,367.2 1545.7,367.0 1548.5,366.0 1551.9,365.2 1555.2,364.7 1558.6,364.2 1562.0,363.8 1565.4,363.2 1566.8,364.6 1568.2,366.0 1571.0,363.9 1573.8,362.6 1576.6,361.0 1579.4,359.7 1582.2,359.9 1585.1,358.7 1587.9,357.0 1590.7,356.1 1593.5,354.6 1596.3,353.3 1599.1,351.9 1601.9,350.5 1604.7,349.1 1607.6,348.1 1610.4,346.6 1613.2,345.7 1616.0,345.3 1618.8,344.2 1621.6,343.4 1624.4,342.8 1627.3,342.0 1630.1,341.1 1632.9,339.9 1635.7,339.3 1638.5,337.9 1641.3,337.1 1644.1,335.8 1647.0,335.0 1649.8,334.1 1652.6,333.3 1655.4,332.4 1658.2,331.8 1661.0,330.8 1676.4,324.6 1679.1,322.6 1681.9,320.8 1684.6,318.6 1687.4,317.2 1690.1,314.7 1692.8,313.1 1695.6,311.3 1698.3,309.4 1701.0,307.3 1703.8,305.5 1706.5,303.6 1709.2,301.6 1712.0,300.3 1714.7,298.9 1717.4,297.5 1720.2,296.4 1722.9,294.8 1725.7,293.4 1728.4,291.9 1731.1,290.8 1733.9,289.2 1736.6,287.9 1739.3,286.1 1742.1,285.2 1744.8,283.4 1747.5,281.5 1750.3,280.3 1752.7,281.8 1755.2,283.6 1756.8,283.0 1758.5,281.9 1760.5,279.5 1762.6,276.9 1764.6,274.6 1766.7,272.1 1768.3,269.8 1770.0,267.4 1771.6,265.2 1773.2,262.8 1774.9,260.6 1776.5,257.9 1778.2,255.4 1779.8,252.7 1781.5,250.0 1783.1,247.4 1784.7,245.1 1786.4,242.8 1788.0,240.6 1789.7,238.3 1791.3,236.0 1792.9,233.7 1794.6,231.4 1796.2,229.0 1797.9,226.7 1799.5,224.5 1802.0,221.8 1804.4,219.5 1804.4,219.5 1802.1,226.1 1799.8,232.6 1797.5,239.2 1795.2,245.7 1792.9,252.3 1790.6,258.9 1788.2,265.4 1785.8,272.0 1783.4,278.5 1781.0,285.1 1778.6,291.6 1776.1,298.1 1773.7,304.7 1771.2,311.2 1768.6,317.7 1766.1,324.2 1763.5,330.7 1760.9,337.2 1758.2,343.7 1755.5,350.1 1752.8,356.6 1750.0,363.0 1747.2,369.4 1744.4,375.8 1741.5,382.2 1738.6,388.5 1735.6,394.9 1732.6,401.2 1729.5,407.5 1726.4,413.8 1723.3,420.1 1720.1,426.3 1716.8,432.5 1713.5,438.7 1710.1,444.8 1706.7,451.0 1703.2,457.1 1699.7,463.2 1696.1,469.2 1692.4,475.2 1688.7,481.2 1684.9,487.2 1681.0,493.1 1677.1,499.0 1673.1,504.8 1669.0,510.6 1664.8,516.3 1660.6,521.9 1656.2,527.5 1651.8,532.9 1647.2,538.2 1642.6,543.3 1637.8,548.3 1632.9,553.1 1627.9,557.8 1622.7,562.2 1617.5,566.4 1612.0,570.4 1606.4,574.2 1600.7,577.6 1594.8,580.9 1588.8,583.8 1582.5,586.4 1576.1,588.8 1569.5,590.8 1562.8,592.4 1555.8,593.7 1548.7,594.7 1541.3,595.2 1534.7,593.6 1531.5,592.4 1528.2,591.9 1524.9,592.2 1521.6,592.1 1518.3,593.2 1515.0,593.4 1511.8,592.9 1508.5,593.6 1505.2,593.5 1501.9,594.1 1498.6,594.5 1495.3,594.1 1492.1,595.2 1488.8,594.9 1485.5,596.4 1482.2,595.9 1478.9,596.4 1475.7,596.8 1472.4,597.1 1469.1,597.8 1465.8,598.1 1462.5,598.4 1459.2,598.5 1456.0,598.2 1452.7,599.2 1449.4,598.9 1446.1,599.2 1442.8,599.3 1439.5,599.2 1436.3,598.8 1433.0,598.6 1429.7,599.0 1426.4,598.5 1424.2,597.4 1422.0,596.4 1419.8,595.2 1416.6,595.8 1413.3,596.5 1410.0,596.8 1419.8,598.5 1416.5,598.6 1413.2,597.2 1409.9,596.8 1406.6,595.5 1403.4,595.2 1400.1,595.5 1396.8,595.3 1393.5,595.8 1390.2,595.6 1387.0,596.0 1383.7,596.8 1380.4,596.5 1377.1,597.4 1373.8,597.8 1370.5,598.5 1367.3,599.0 1364.0,599.3 1360.7,599.9 1357.4,600.6 1354.1,600.9 1350.8,601.2 1347.6,602.5 1344.3,602.4 1341.0,603.6 1337.7,603.4 1334.4,603.5 1331.1,604.5 1327.9,605.3 1324.6,605.5 1321.3,605.9 1318.0,606.1 1314.7,606.5 1311.5,607.8 1308.2,607.6 1304.9,608.3 1301.6,608.7 1298.3,608.8 1295.0,608.9 1291.8,609.6 1288.5,610.0 1285.2,611.2 1281.9,611.0 1278.6,611.6 1275.3,611.6 1272.1,612.4 1268.8,612.5 1265.5,613.5 1262.2,614.7 1258.9,615.5 1255.7,615.7 1252.8,617.3 1249.9,617.2 1247.0,618.3 1244.2,619.0 1240.9,618.5 1237.6,618.1 1234.3,618.2 1232.0,619.7 1229.7,621.3 1227.4,623.2 1225.1,624.5 1222.8,626.4 1218.8,628.2 1215.5,644.6 1210.6,664.3 1205.7,682.4 1199.1,702.1 1190.9,721.8 1182.7,738.2 1177.7,745.8" fill="none" stroke="#ff8000" stroke-width="3.5" stroke-linejoin="round" stroke-linecap="round"/>
<polyline points="1173.6,746.0 1179.0,741.5 1185.4,731.6 1190.3,718.5 1195.9,694.0 1203.8,661.0 1212.5,620.0 1226.2,575.0 1240.5,530.0 1252.3,492.0 1264.1,454.0 1267.5,446.0 1271.2,438.6 1276.1,431.2 1280.5,427.0 1283.5,422.8 1286.7,422.4 1290.0,421.8 1293.3,421.4 1295.4,422.2 1297.5,422.8 1300.9,421.4 1304.3,421.4 1307.7,419.9 1311.0,419.7 1314.4,418.6 1317.6,417.6 1320.7,417.9 1323.9,416.5 1327.1,415.8 1328.5,417.2 1329.9,418.6 1333.0,417.0 1336.2,416.5 1339.4,415.1 1342.5,414.4 1345.4,413.8 1348.2,413.2 1351.0,412.5 1353.8,411.6 1356.6,410.9 1359.4,410.0 1362.2,409.6 1365.1,409.0 1367.9,408.6 1370.7,408.1 1373.5,407.7 1376.3,407.1 1379.1,406.9 1381.9,405.4 1384.7,405.3 1387.6,404.7 1390.4,404.3 1393.2,403.3 1396.0,403.0 1398.8,403.2 1401.6,402.0 1404.4,402.0 1407.3,401.6 1410.1,401.3 1412.9,400.3 1415.7,399.9 1418.5,398.7 1421.3,398.1 1424.1,396.9 1427.0,396.1 1429.8,396.4 1432.6,394.7 1435.4,394.4 1438.2,393.6 1441.0,393.3 1450.0,391.3 1452.8,390.8 1455.6,389.6 1458.4,390.1 1461.3,390.0 1464.1,389.2 1467.4,389.9 1470.6,389.9 1473.9,389.9 1476.7,388.4 1479.5,388.0 1482.4,387.1 1485.2,386.4 1488.0,385.8 1490.8,384.9 1493.6,383.7 1496.4,382.4 1499.2,382.1 1501.6,381.3 1503.9,380.4 1506.3,380.0 1509.1,379.2 1511.9,378.6 1514.7,377.5 1517.5,376.2 1520.3,375.8 1523.2,375.2 1526.0,374.4 1528.8,374.4 1531.6,373.1 1534.4,373.0 1537.2,372.3 1540.0,371.9 1542.8,370.5 1545.7,370.3 1548.5,369.5 1551.3,369.7 1554.1,368.3 1556.9,367.5 1559.7,367.2 1562.5,366.7 1564.7,365.7 1566.8,365.3 1569.6,367.0 1572.4,368.8 1575.2,368.1 1578.0,367.5 1580.8,366.4 1583.6,366.0 1586.5,365.3 1589.3,364.0 1592.1,363.3 1594.9,362.1 1597.7,361.0 1600.1,360.1 1602.4,358.7 1604.7,357.5 1607.6,356.3 1610.4,355.9 1613.2,355.3 1616.0,354.2 1618.8,353.3 1621.6,351.7 1624.4,351.6 1627.3,350.7 1630.1,349.9 1632.9,349.1 1635.7,347.6 1638.5,347.8 1641.3,346.7 1644.1,346.4 1647.0,345.6 1649.8,344.6 1652.6,343.7 1655.4,343.9 1658.2,342.4 1661.0,342.1 1663.8,340.7 1666.6,339.1 1669.5,337.6 1672.3,336.6 1675.1,335.0 1678.1,333.7 1681.1,332.0 1684.0,330.6 1687.0,328.8 1690.0,327.3 1692.8,324.6 1695.6,322.9 1698.3,321.2 1701.0,319.8 1703.8,318.1 1706.5,316.5 1709.2,314.7 1712.0,313.1 1714.7,311.2 1717.4,309.6 1720.2,308.1 1722.9,306.4 1725.7,304.9 1728.4,303.3 1731.1,301.7 1733.9,299.9 1736.6,298.5 1739.3,296.7 1742.1,295.0 1745.3,294.2 1747.4,295.8 1749.4,297.5 1750.9,295.3 1752.3,292.9 1753.8,290.7 1755.2,288.5 1757.1,286.0 1759.0,283.5 1760.9,281.1 1762.9,278.6 1764.8,276.1 1766.7,273.7 1768.3,271.3 1770.0,269.1 1771.6,266.9 1773.2,264.5 1774.9,262.2 1776.7,259.4 1778.5,256.8 1780.4,254.0 1782.2,251.3 1784.0,248.5 1785.8,245.8 1787.7,243.1 1789.5,240.4 1791.3,237.6 1793.2,235.0 1795.1,232.4 1796.9,229.8 1798.8,227.2 1800.7,224.7 1802.6,222.1 1804.4,219.5 1804.8,219.8 1802.5,226.4 1800.2,232.9 1797.9,239.5 1795.6,246.0 1793.3,252.6 1791.0,259.2 1788.6,265.7 1786.2,272.3 1783.8,278.8 1781.4,285.4 1779.0,291.9 1776.5,298.4 1774.1,305.0 1771.6,311.5 1769.0,318.0 1766.5,324.5 1763.9,331.0 1761.3,337.5 1758.6,344.0 1755.9,350.4 1753.2,356.9 1750.4,363.3 1747.6,369.7 1744.8,376.1 1741.9,382.5 1739.0,388.8 1736.0,395.2 1733.0,401.5 1729.9,407.8 1726.8,414.1 1723.7,420.4 1720.5,426.6 1717.2,432.8 1713.9,439.0 1710.5,445.1 1707.1,451.3 1703.6,457.4 1700.1,463.5 1696.5,469.5 1692.8,475.5 1689.1,481.5 1685.3,487.5 1681.4,493.4 1677.5,499.3 1673.5,505.1 1669.4,510.9 1665.2,516.6 1661.0,522.2 1656.6,527.8 1652.2,533.2 1647.6,538.5 1643.0,543.6 1638.2,548.6 1633.3,553.4 1628.3,558.1 1623.1,562.5 1617.9,566.7 1612.4,570.7 1606.8,574.5 1601.1,577.9 1595.2,581.2 1589.2,584.1 1582.9,586.7 1576.5,589.1 1569.9,591.1 1563.2,592.7 1556.2,594.0 1549.1,595.0 1541.7,595.5 1534.7,596.8 1531.5,596.1 1528.2,595.5 1524.9,595.2 1521.6,596.1 1518.3,595.3 1515.0,595.7 1511.8,596.3 1508.5,596.0 1505.2,596.4 1501.9,596.8 1498.6,597.6 1495.3,597.3 1492.1,597.7 1488.8,598.0 1485.5,598.7 1482.2,598.6 1478.9,598.6 1475.7,599.3 1472.4,599.8 1469.1,599.9 1465.8,599.9 1462.5,599.8 1459.2,600.4 1456.0,600.4 1452.7,600.9 1449.4,600.4 1446.1,601.0 1442.8,600.9 1439.5,601.4 1436.3,600.7 1433.0,600.5 1429.7,601.2 1426.4,600.9 1423.1,600.6 1419.8,600.2 1416.6,600.0 1413.3,600.1 1410.0,599.3 1419.8,600.4 1416.5,599.9 1413.2,599.5 1409.9,598.6 1406.6,598.2 1403.4,597.2 1400.1,596.8 1396.8,597.6 1393.5,597.2 1390.2,597.5 1387.0,597.7 1383.7,598.8 1380.4,598.5 1377.1,598.9 1373.8,599.4 1370.5,599.8 1367.3,600.2 1364.0,600.9 1360.7,601.2 1357.4,601.7 1354.1,602.1 1350.8,602.7 1347.6,602.5 1344.3,603.4 1341.0,604.5 1337.7,604.5 1334.4,604.6 1331.1,605.5 1327.9,605.5 1324.6,606.4 1321.3,607.0 1318.0,607.0 1314.7,608.3 1311.5,608.2 1308.2,608.2 1304.9,609.5 1301.6,609.9 1298.3,610.1 1295.0,610.5 1291.8,610.8 1288.5,611.3 1285.2,610.9 1281.9,611.9 1278.6,613.0 1275.3,613.9 1272.1,613.7 1268.8,614.9 1265.5,615.2 1262.2,615.4 1258.9,616.1 1255.7,617.0 1252.8,617.8 1249.9,618.7 1247.0,619.2 1244.2,620.1 1241.4,619.9 1238.7,620.5 1236.0,620.6 1233.2,622.4 1230.5,624.6 1227.7,626.4 1222.3,628.2 1219.0,644.6 1214.0,664.3 1208.7,682.4 1201.6,702.1 1193.0,721.8 1184.0,738.2 1178.7,745.8" fill="none" stroke="#ff8000" stroke-width="3.5" stroke-linejoin="round" stroke-linecap="round"/>
<polyline points="1179.4,745.8 1183.5,737.0 1187.6,726.7 1196.6,702.0 1204.8,673.3 1212.0,636.4 1216.5,620.0 1225.7,590.3 1233.5,557.4 1241.3,530.0 1253.2,491.4 1260.8,468.6 1268.4,450.3 1276.0,438.1 1282.1,432.8 1286.7,429.0 1295.8,427.4 1298.9,429.7 1309.5,424.4 1321.7,422.1 1326.3,421.3 1327.1,426.7 1342.5,421.4 1345.4,420.3 1348.2,419.3 1351.0,418.2 1353.8,417.0 1356.6,416.5 1359.4,415.9 1362.2,415.2 1365.1,414.6 1367.9,413.8 1370.7,413.7 1373.5,413.0 1376.3,412.2 1379.1,411.8 1381.9,410.3 1384.7,410.2 1387.6,409.9 1390.4,408.8 1393.2,409.1 1396.0,408.5 1398.8,408.1 1401.6,407.6 1404.4,406.6 1407.3,405.8 1410.1,405.5 1412.9,404.6 1415.7,404.7 1418.5,403.4 1421.3,403.4 1424.1,402.4 1427.0,401.7 1429.8,400.8 1432.6,401.0 1435.4,399.7 1438.2,399.5 1441.0,398.9 1450.0,399.0 1452.8,398.5 1455.6,398.1 1458.4,396.8 1461.3,396.5 1464.1,395.5 1467.4,395.7 1470.6,394.8 1473.9,394.8 1476.0,396.4 1478.1,398.3 1480.9,398.7 1483.8,399.7 1486.6,398.3 1489.4,397.8 1492.2,396.2 1495.0,395.5 1497.8,395.1 1500.6,394.2 1503.5,393.0 1506.3,392.7 1509.1,392.4 1511.9,391.3 1514.7,390.9 1517.5,390.3 1520.3,389.9 1523.2,388.8 1526.0,388.8 1528.8,388.1 1531.6,387.3 1534.4,386.4 1537.2,385.8 1540.0,385.0 1542.8,384.2 1545.7,383.4 1548.5,382.8 1551.3,382.5 1554.1,381.5 1556.9,381.9 1559.7,380.9 1562.5,380.7 1565.4,379.8 1568.2,380.4 1571.0,379.9 1573.8,379.3 1576.6,378.6 1579.4,378.5 1582.2,377.7 1585.1,377.2 1586.5,378.2 1587.9,379.3 1590.3,377.9 1592.8,376.7 1595.3,376.0 1597.7,374.4 1600.5,374.3 1603.3,373.4 1606.2,373.1 1609.0,372.2 1611.8,371.6 1614.6,371.1 1617.4,370.7 1620.2,369.9 1623.0,368.6 1625.8,368.1 1628.7,367.0 1631.5,366.6 1634.3,365.7 1637.1,364.8 1639.9,363.9 1642.7,363.0 1645.5,361.7 1648.4,360.6 1651.2,359.6 1654.0,361.0 1656.8,361.7 1659.6,359.6 1662.4,357.7 1665.2,355.9 1668.1,354.0 1670.9,352.7 1673.7,351.2 1676.5,349.7 1679.3,348.1 1682.1,347.0 1684.7,345.5 1687.4,344.4 1690.0,342.8 1717.4,330.0 1719.9,328.5 1722.4,326.9 1724.8,325.4 1727.3,323.8 1728.9,325.0 1730.6,326.2 1732.5,323.9 1734.4,321.7 1736.3,319.4 1738.2,317.1 1740.1,314.9 1742.1,312.6 1744.1,309.8 1746.2,307.0 1748.2,304.4 1750.3,301.5 1752.3,298.8 1754.4,296.0 1756.4,293.2 1758.5,290.4 1760.3,287.9 1762.1,285.3 1763.9,282.8 1765.8,280.3 1767.6,277.7 1769.4,275.1 1771.2,272.6 1773.1,270.1 1774.9,267.5 1776.7,264.8 1778.5,262.2 1780.4,259.6 1782.2,257.0 1784.0,254.3 1785.8,251.7 1787.7,249.1 1789.5,246.4 1791.3,243.8 1793.1,241.1 1794.9,238.4 1796.8,235.8 1798.6,233.0 1800.4,230.4 1802.2,227.6 1804.1,224.9 1805.9,222.3 1807.7,219.5 1819.6,200.0 1821.4,197.1 1823.2,194.3 1825.0,191.4 1826.7,188.5 1828.5,185.7 1830.3,182.8 1832.1,180.0 1833.8,177.2 1835.6,174.4 1837.4,171.6 1839.2,168.8 1841.0,166.0 1842.7,163.3 1844.3,160.6 1846.0,157.8 1847.7,155.2 1849.4,152.4 1851.1,149.8 1852.8,147.0 1854.5,144.3 1856.2,141.6 1857.9,138.9 1859.6,136.2 1861.3,133.5 1863.0,130.8 1864.7,128.1 1866.4,125.3 1868.1,122.7 1869.7,120.0 1871.4,117.2 1873.1,114.5 1874.8,111.8 1876.5,109.1 1878.2,106.4 1879.9,103.7 1881.6,101.1 1883.3,98.3 1885.0,95.6 1886.7,92.9 1888.7,90.3 1890.6,87.7 1892.6,85.1 1894.6,82.5 1896.6,79.9 1896.3,79.9 1894.3,87.6 1892.2,95.3 1890.0,103.0 1887.9,110.7 1885.6,118.3 1883.4,125.9 1881.1,133.4 1878.8,141.0 1876.4,148.5 1874.0,156.0 1871.5,163.5 1869.0,171.0 1866.5,178.5 1864.0,185.9 1861.4,193.3 1858.7,200.7 1856.1,208.2 1853.5,215.6 1850.8,223.0 1848.1,230.3 1845.4,237.7 1842.6,245.1 1839.8,252.5 1837.0,259.8 1834.2,267.2 1831.3,274.5 1828.5,281.9 1825.6,289.2 1822.6,296.6 1819.7,303.9 1816.7,311.3 1813.7,318.6 1810.7,326.0 1807.7,333.4 1804.7,340.8 1801.6,348.2 1798.6,355.5 1795.5,363.0 1792.4,370.4 1789.3,377.8 1786.1,385.1 1782.9,392.5 1779.7,399.9 1776.4,407.2 1773.1,414.6 1769.7,421.9 1766.3,429.1 1762.8,436.3 1759.3,443.4 1755.6,450.5 1752.0,457.6 1748.2,464.6 1744.4,471.5 1740.5,478.4 1736.5,485.2 1732.4,492.0 1728.2,498.6 1724.0,505.2 1719.6,511.7 1715.1,518.2 1710.6,524.5 1706.0,530.7 1701.2,536.8 1696.4,542.8 1691.4,548.8 1686.3,554.6 1681.1,560.2 1675.7,565.8 1670.2,571.2 1664.5,576.5 1658.7,581.6 1652.7,586.6 1646.5,591.3 1640.2,595.9 1633.8,600.4 1627.2,604.8 1620.4,608.9 1613.4,612.8 1606.2,616.5 1590.5,622.3 1587.3,621.7 1584.0,622.8 1580.7,623.6 1577.4,623.9 1574.1,623.9 1570.8,624.0 1567.6,624.3 1564.3,625.2 1561.0,625.8 1557.7,625.6 1554.4,626.0 1551.1,626.3 1547.9,625.8 1544.6,627.4 1541.3,627.2 1538.0,627.1 1534.7,627.3 1531.5,626.5 1528.2,627.2 1526.5,626.6 1524.9,625.6 1521.6,625.1 1518.3,626.3 1515.0,626.0 1511.8,626.6 1508.5,626.4 1505.2,626.5 1501.9,626.6 1498.6,627.8 1495.3,628.0 1492.1,628.0 1488.8,629.0 1485.5,628.8 1482.2,629.4 1478.9,629.7 1476.5,628.1 1474.0,626.4 1471.1,626.3 1468.1,627.2 1465.1,627.6 1462.2,627.7 1459.2,627.7 1456.0,627.2 1452.7,628.7 1449.4,628.8 1448.6,627.2 1447.7,625.6 1444.7,625.8 1441.7,625.7 1438.6,625.9 1435.6,626.1 1432.5,626.2 1429.5,626.7 1426.4,626.7 1423.1,627.2 1419.8,628.2 1416.6,627.0 1413.3,628.1 1410.0,628.0 1403.4,629.7 1400.1,630.0 1396.8,630.3 1393.5,630.6 1390.2,631.5 1387.0,631.7 1383.7,632.3 1380.4,631.9 1377.1,632.8 1373.8,633.0 1370.5,633.8 1353.4,635.6 1350.1,635.9 1346.8,636.2 1343.5,637.3 1340.2,637.7 1337.0,638.5 1333.7,638.3 1330.4,639.3 1327.1,639.6 1323.8,639.4 1320.5,640.5 1317.5,641.4 1314.4,641.5 1311.3,642.3 1308.2,642.3 1305.2,643.6 1302.1,643.4 1299.0,644.7 1295.9,644.6 1293.5,642.2 1291.5,643.6 1289.6,644.8 1287.7,646.3 1284.4,647.1 1281.1,647.6 1277.9,648.9 1274.6,649.0 1271.3,650.4 1268.0,651.2 1264.7,652.4 1261.5,653.7 1258.2,653.9 1254.9,655.3 1253.2,656.5 1251.6,657.7 1250.0,654.9 1248.3,652.0 1246.4,654.0 1244.4,656.2 1242.4,658.4 1240.4,660.6 1238.5,662.7 1236.0,665.1 1233.6,667.6 1231.1,670.1 1228.6,672.5 1226.4,674.4 1224.3,676.4 1222.1,678.3 1219.6,679.5 1217.1,679.9 1216.3,682.6 1215.5,685.2 1214.7,687.9 1213.9,690.6 1212.7,693.4 1211.5,696.2 1210.3,699.0 1209.2,701.8 1208.0,704.6 1206.8,707.5 1205.7,710.3 1204.3,713.3 1202.9,716.3 1201.5,719.3 1200.2,722.3 1198.8,725.3 1197.4,728.3 1195.8,731.0 1194.2,733.5 1192.5,736.2 1190.9,738.8 1189.2,741.5 1187.2,743.7 1185.1,745.7" fill="none" stroke="#808000" stroke-width="3.5" stroke-linejoin="round" stroke-linecap="round"/>
<polyline points="1185.1,745.8 1189.2,741.5 1197.4,728.3 1205.7,710.3 1213.9,690.6 1217.1,679.9 1222.1,652.8 1228.6,620.0 1237.6,582.1 1245.8,554.2 1254.7,530.0 1260.8,509.7 1261.8,506.9 1262.8,504.1 1263.8,501.3 1264.8,498.5 1265.9,495.8 1266.9,493.0 1268.1,490.2 1269.4,487.4 1270.7,484.6 1271.9,481.8 1273.2,479.0 1274.5,476.2 1276.0,473.7 1277.5,471.1 1279.1,468.6 1280.6,466.1 1282.1,463.5 1283.6,461.0 1285.5,458.2 1287.4,455.6 1289.3,453.0 1291.3,450.3 1293.3,448.2 1295.3,446.1 1297.4,444.2 1299.9,443.1 1302.4,441.1 1305.0,439.6 1307.5,439.2 1310.1,438.7 1312.6,438.1 1315.6,437.3 1318.7,437.9 1321.7,437.7 1324.8,438.1 1327.3,436.8 1329.9,436.1 1332.4,434.3 1335.8,433.9 1339.3,433.2 1342.7,432.4 1346.1,432.0 1346.5,434.3 1346.9,436.6 1349.5,436.4 1352.2,435.8 1354.9,434.0 1357.5,433.0 1360.2,431.6 1362.9,430.5 1365.9,429.4 1369.0,428.7 1372.0,428.0 1375.1,426.0 1378.1,425.9 1381.6,425.6 1385.0,424.6 1388.4,423.4 1391.8,423.6 1393.4,425.5 1394.9,427.4 1398.3,426.4 1401.7,426.7 1405.2,425.9 1408.6,425.1 1411.9,424.7 1415.1,423.2 1418.4,422.7 1421.7,422.2 1424.9,421.2 1428.2,421.2 1431.5,420.6 1434.7,420.4 1438.0,419.2 1441.3,419.5 1444.5,419.1 1447.8,418.4 1451.1,417.8 1454.3,417.5 1457.5,416.2 1460.7,416.3 1463.9,416.4 1467.1,415.7 1470.3,415.4 1473.5,414.6 1476.7,414.5 1479.9,413.7 1502.1,410.0 1505.1,409.6 1508.1,409.2 1511.2,409.1 1514.2,408.9 1517.3,408.8 1520.3,408.2 1523.4,408.0 1526.4,407.6 1529.4,407.2 1532.4,406.3 1535.4,407.0 1538.4,406.3 1541.4,406.8 1544.5,406.2 1547.5,405.2 1550.5,404.6 1553.5,403.9 1556.5,402.9 1559.5,402.4 1562.5,401.8 1565.4,401.4 1568.2,400.6 1571.0,399.2 1573.8,398.4 1576.6,398.3 1579.4,397.8 1582.2,397.4 1585.1,396.4 1587.9,396.7 1590.7,395.5 1593.5,394.0 1596.3,394.2 1599.1,393.5 1601.9,393.4 1604.7,392.7 1607.1,392.3 1609.4,391.5 1611.8,391.3 1613.9,392.8 1616.0,394.1 1619.3,393.0 1622.6,391.6 1625.8,391.3 1628.7,390.2 1631.5,388.5 1634.3,387.5 1637.1,386.1 1639.9,385.0 1642.7,383.8 1645.5,382.5 1648.4,381.3 1651.2,379.9 1654.0,378.6 1656.8,377.9 1659.6,376.8 1662.4,376.3 1665.2,375.1 1667.7,373.7 1670.2,372.7 1672.6,371.6 1675.1,370.2 1678.1,369.3 1681.1,368.0 1684.0,366.4 1687.0,365.9 1690.0,364.6 1718.5,348.0 1721.0,346.2 1723.4,344.2 1725.9,342.4 1728.3,340.6 1730.2,342.5 1732.0,344.3 1733.9,341.9 1735.7,339.4 1737.6,336.9 1739.4,334.6 1741.3,332.0 1743.1,329.5 1742.1,330.0 1744.1,327.6 1746.2,325.2 1748.2,322.7 1750.3,320.4 1752.3,317.9 1754.4,315.6 1756.4,313.0 1758.5,310.6 1760.5,307.9 1762.6,305.3 1764.6,302.6 1766.7,300.0 1768.7,297.4 1770.8,294.6 1772.8,292.1 1774.9,289.5 1776.7,286.6 1778.5,283.8 1780.4,281.0 1782.2,278.2 1784.0,275.3 1785.8,272.4 1787.7,269.5 1789.5,266.7 1791.3,263.9 1793.1,261.2 1794.9,258.4 1796.8,255.7 1798.6,252.9 1800.4,250.2 1802.2,247.5 1804.1,244.7 1805.9,242.0 1807.7,239.2 1809.5,236.3 1811.4,233.4 1813.2,230.5 1815.0,227.6 1816.8,224.6 1818.7,221.7 1820.5,218.8 1822.3,215.9 1824.1,213.0 1832.6,200.0 1834.2,197.1 1835.8,194.2 1837.5,191.3 1839.1,188.4 1840.7,185.5 1842.4,182.6 1844.0,179.7 1845.5,176.9 1847.1,174.0 1848.6,171.2 1850.1,168.3 1851.6,165.5 1853.2,162.6 1854.7,159.7 1856.2,156.9 1857.7,154.4 1859.2,152.0 1860.8,149.6 1862.3,147.2 1863.8,144.7 1865.3,143.1 1866.9,141.6 1868.4,138.6 1869.9,135.5 1871.4,132.5 1873.0,129.4 1874.5,126.4 1876.0,123.5 1877.5,120.6 1879.1,117.8 1880.6,114.9 1882.1,112.1 1883.6,109.2 1885.2,106.4 1886.7,103.5 1887.9,100.8 1889.1,98.1 1890.3,95.3 1891.6,92.5 1892.8,89.8 1893.7,87.3 1894.7,84.9 1895.6,82.4 1896.6,79.9 1896.9,79.9 1895.0,87.7 1893.0,95.4 1890.9,103.2 1888.8,110.9 1886.7,118.5 1884.5,126.2 1882.3,133.8 1880.1,141.4 1877.8,149.0 1875.5,156.6 1873.1,164.1 1870.7,171.6 1868.3,179.1 1865.8,186.6 1863.3,194.1 1860.7,201.6 1858.1,209.0 1855.5,216.4 1852.8,223.8 1850.1,231.2 1847.4,238.6 1844.7,246.0 1841.9,253.4 1839.1,260.8 1836.3,268.2 1833.4,275.5 1830.5,282.9 1827.6,290.3 1824.7,297.6 1821.8,305.0 1818.8,312.4 1815.9,319.8 1812.9,327.2 1809.8,334.6 1806.8,341.9 1803.8,349.4 1800.7,356.8 1797.6,364.2 1794.6,371.6 1791.4,379.0 1788.3,386.5 1785.1,393.9 1781.9,401.2 1778.6,408.6 1775.3,416.0 1772.0,423.3 1768.6,430.6 1765.1,437.9 1761.7,445.1 1758.1,452.4 1754.5,459.5 1750.8,466.6 1747.0,473.6 1743.1,480.6 1739.2,487.5 1735.2,494.4 1731.1,501.1 1726.9,507.8 1722.5,514.4 1718.1,521.0 1713.6,527.4 1708.9,533.7 1704.1,540.0 1699.2,546.1 1694.2,552.2 1689.0,558.1 1683.7,563.9 1678.3,569.6 1672.8,575.1 1667.1,580.5 1661.2,585.7 1655.2,590.7 1649.0,595.6 1642.6,600.3 1636.0,604.7 1629.2,608.8 1622.2,612.7 1615.0,616.4 1607.6,619.9 1590.5,626.4 1587.3,626.8 1584.0,627.5 1580.7,627.6 1577.4,628.1 1574.1,628.8 1570.8,629.2 1567.6,629.7 1564.3,630.1 1561.0,630.1 1557.7,630.5 1554.4,631.2 1551.1,631.1 1547.9,631.4 1544.6,631.9 1541.3,632.1 1538.0,632.3 1534.7,632.2 1531.5,632.9 1529.3,632.6 1527.1,631.3 1524.9,630.5 1521.6,631.0 1518.3,630.8 1515.0,631.0 1511.8,630.7 1508.5,631.3 1505.2,632.2 1501.9,632.8 1498.6,633.2 1495.3,633.0 1492.1,633.8 1489.2,634.5 1486.3,635.3 1483.4,635.4 1480.6,636.2 1478.1,633.8 1475.7,631.3 1472.4,631.2 1469.1,631.2 1465.8,631.1 1462.5,631.1 1459.2,631.3 1456.0,631.3 1452.7,631.5 1449.4,631.4 1446.1,632.0 1442.8,632.0 1439.5,632.2 1436.3,632.0 1433.0,632.6 1429.7,632.5 1426.4,632.9 1423.1,633.7 1419.8,633.6 1416.6,633.4 1413.3,633.8 1410.0,633.8 1387.0,636.2 1353.4,639.7 1350.1,640.0 1346.8,640.1 1343.5,641.1 1340.2,641.2 1337.0,642.7 1333.7,642.0 1330.4,642.7 1327.1,643.6 1323.8,644.3 1320.5,644.6 1317.5,645.3 1314.4,645.9 1311.3,646.4 1308.2,646.7 1305.2,647.7 1302.1,648.4 1299.0,648.8 1295.9,649.5 1293.2,648.6 1290.4,649.6 1287.7,649.5 1284.4,651.0 1281.1,651.8 1277.9,653.3 1274.6,653.2 1271.3,655.3 1268.4,656.4 1265.6,658.1 1262.7,659.0 1259.8,660.2 1257.4,659.6 1254.9,659.4 1252.8,661.3 1250.8,663.0 1248.7,665.0 1246.7,666.8 1243.9,668.9 1241.2,670.6 1238.5,672.5 1236.4,674.6 1234.4,676.6 1232.3,678.6 1230.3,680.7 1228.1,682.5 1225.9,684.7 1223.7,686.5 1220.4,685.7 1219.3,688.4 1218.2,691.1 1217.1,693.9 1216.0,696.7 1214.8,699.5 1213.6,702.3 1212.5,705.1 1211.3,707.9 1210.1,710.7 1208.9,713.6 1207.6,716.6 1206.2,719.6 1204.8,722.6 1203.5,725.6 1202.1,728.6 1200.7,731.6 1199.1,734.5 1197.4,737.2 1195.8,740.1 1194.2,742.9 1192.5,745.7" fill="none" stroke="#808000" stroke-width="3.5" stroke-linejoin="round" stroke-linecap="round"/>
</g>
<rect x="1152.5" y="18.0" width="836.8" height="728.2" fill="none" stroke="#000" stroke-width="5.2"/>
<g stroke="#000" stroke-width="5.2" fill="none"><line x1="1152.5" y1="746.2" x2="1152.5" y2="754.7"/><line x1="1245.5" y1="746.2" x2="1245.5" y2="754.7"/><line x1="1338.5" y1="746.2" x2="1338.5" y2="754.7"/><line x1="1431.4" y1="746.2" x2="1431.4" y2="754.7"/><line x1="1524.4" y1="746.2" x2="1524.4" y2="754.7"/><line x1="1617.4" y1="746.2" x2="1617.4" y2="754.7"/><line x1="1710.4" y1="746.2" x2="1710.4" y2="754.7"/><line x1="1803.3" y1="746.2" x2="1803.3" y2="754.7"/><line x1="1896.3" y1="746.2" x2="1896.3" y2="754.7"/><line x1="1989.3" y1="746.2" x2="1989.3" y2="754.7"/><line x1="1152.5" y1="746.2" x2="1144.0" y2="746.2"/><line x1="1152.5" y1="673.4" x2="1144.0" y2="673.4"/><line x1="1152.5" y1="600.6" x2="1144.0" y2="600.6"/><line x1="1152.5" y1="527.7" x2="1144.0" y2="527.7"/><line x1="1152.5" y1="454.9" x2="1144.0" y2="454.9"/><line x1="1152.5" y1="382.1" x2="1144.0" y2="382.1"/><line x1="1152.5" y1="309.3" x2="1144.0" y2="309.3"/><line x1="1152.5" y1="236.5" x2="1144.0" y2="236.5"/><line x1="1152.5" y1="163.6" x2="1144.0" y2="163.6"/><line x1="1152.5" y1="90.8" x2="1144.0" y2="90.8"/><line x1="1152.5" y1="18.0" x2="1144.0" y2="18.0"/></g>
<text transform="translate(1152.5,791.0) scale(0.9,1)" text-anchor="middle" font-family='"Liberation Serif", "DejaVu Serif", serif' font-weight="bold" font-size="39.7" fill="#000">0</text>
<text transform="translate(1245.5,791.0) scale(0.9,1)" text-anchor="middle" font-family='"Liberation Serif", "DejaVu Serif", serif' font-weight="bold" font-size="39.7" fill="#000">1</text>
<text transform="translate(1338.5,791.0) scale(0.9,1)" text-anchor="middle" font-family='"Liberation Serif", "DejaVu Serif", serif' font-weight="bold" font-size="39.7" fill="#000">2</text>
<text transform="translate(1431.4,791.0) scale(0.9,1)" text-anchor="middle" font-family='"Liberation Serif", "DejaVu Serif", serif' font-weight="bold" font-size="39.7" fill="#000">3</text>
<text transform="translate(1524.4,791.0) scale(0.9,1)" text-anchor="middle" font-family='"Liberation Serif", "DejaVu Serif", serif' font-weight="bold" font-size="39.7" fill="#000">4</text>
<text transform="translate(1617.4,791.0) scale(0.9,1)" text-anchor="middle" font-family='"Liberation Serif", "DejaVu Serif", serif' font-weight="bold" font-size="39.7" fill="#000">5</text>
<text transform="translate(1710.4,791.0) scale(0.9,1)" text-anchor="middle" font-family='"Liberation Serif", "DejaVu Serif", serif' font-weight="bold" font-size="39.7" fill="#000">6</text>
<text transform="translate(1803.3,791.0) scale(0.9,1)" text-anchor="middle" font-family='"Liberation Serif", "DejaVu Serif", serif' font-weight="bold" font-size="39.7" fill="#000">7</text>
<text transform="translate(1896.3,791.0) scale(0.9,1)" text-anchor="middle" font-family='"Liberation Serif", "DejaVu Serif", serif' font-weight="bold" font-size="39.7" fill="#000">8</text>
<text transform="translate(1989.3,791.0) scale(0.9,1)" text-anchor="middle" font-family='"Liberation Serif", "DejaVu Serif", serif' font-weight="bold" font-size="39.7" fill="#000">9</text>
<text transform="translate(1138.5,758.2) scale(0.9,1)" text-anchor="end" font-family='"Liberation Serif", "DejaVu Serif", serif' font-weight="bold" font-size="39.7" fill="#000">0</text>
<text transform="translate(1138.5,685.4) scale(0.9,1)" text-anchor="end" font-family='"Liberation Serif", "DejaVu Serif", serif' font-weight="bold" font-size="39.7" fill="#000">100</text>
<text transform="translate(1138.5,612.6) scale(0.9,1)" text-anchor="end" font-family='"Liberation Serif", "DejaVu Serif", serif' font-weight="bold" font-size="39.7" fill="#000">200</text>
<text transform="translate(1138.5,539.7) scale(0.9,1)" text-anchor="end" font-family='"Liberation Serif", "DejaVu Serif", serif' font-weight="bold" font-size="39.7" fill="#000">300</text>
<text transform="translate(1138.5,466.9) scale(0.9,1)" text-anchor="end" font-family='"Liberation Serif", "DejaVu Serif", serif' font-weight="bold" font-size="39.7" fill="#000">400</text>
<text transform="translate(1138.5,394.1) scale(0.9,1)" text-anchor="end" font-family='"Liberation Serif", "DejaVu Serif", serif' font-weight="bold" font-size="39.7" fill="#000">500</text>
<text transform="translate(1138.5,321.3) scale(0.9,1)" text-anchor="end" font-family='"Liberation Serif", "DejaVu Serif", serif' font-weight="bold" font-size="39.7" fill="#000">600</text>
<text transform="translate(1138.5,248.5) scale(0.9,1)" text-anchor="end" font-family='"Liberation Serif", "DejaVu Serif", serif' font-weight="bold" font-size="39.7" fill="#000">700</text>
<text transform="translate(1138.5,175.6) scale(0.9,1)" text-anchor="end" font-family='"Liberation Serif", "DejaVu Serif", serif' font-weight="bold" font-size="39.7" fill="#000">800</text>
<text transform="translate(1138.5,102.8) scale(0.9,1)" text-anchor="end" font-family='"Liberation Serif", "DejaVu Serif", serif' font-weight="bold" font-size="39.7" fill="#000">900</text>
<text transform="translate(1138.5,30.0) scale(0.9,1)" text-anchor="end" font-family='"Liberation Serif", "DejaVu Serif", serif' font-weight="bold" font-size="39.7" fill="#000">1000</text>
<text transform="translate(1573.0,842.6) scale(0.8755,1)" text-anchor="middle" font-family='"Liberation Serif", "DejaVu Serif", serif' font-weight="bold" font-size="40.3" fill="#000">Strain (%)</text>
<text transform="translate(1058.0,364.0) rotate(-90) scale(1.055,1)" text-anchor="middle" font-family='"Liberation Serif", "DejaVu Serif", serif' font-weight="bold" font-size="36.2" fill="#000">Stress (MPa)</text>
<text transform="translate(1953.3,67.0) scale(0.967,1)" text-anchor="middle" font-family='"Liberation Serif", "DejaVu Serif", serif' font-weight="bold" font-size="37.5" fill="#000">(b)</text>
<line x1="1868.4" y1="471.3" x2="1924.6" y2="471.3" stroke="#000000" stroke-width="1.8" stroke-linecap="round"/>
<text transform="translate(1931.0,481.2) scale(0.87,1)" text-anchor="start" font-family='"Liberation Serif", "DejaVu Serif", serif' font-weight="bold" font-size="30" fill="#000">1%</text>
<line x1="1868.4" y1="506.2" x2="1924.6" y2="506.2" stroke="#ff0000" stroke-width="4" stroke-linecap="round"/>
<text transform="translate(1931.0,516.1) scale(0.87,1)" text-anchor="start" font-family='"Liberation Serif", "DejaVu Serif", serif' font-weight="bold" font-size="30" fill="#000">2%</text>
<line x1="1868.4" y1="541.1" x2="1924.6" y2="541.1" stroke="#00ff00" stroke-width="4" stroke-linecap="round"/>
<text transform="translate(1931.0,551.0) scale(0.87,1)" text-anchor="start" font-family='"Liberation Serif", "DejaVu Serif", serif' font-weight="bold" font-size="30" fill="#000">3%</text>
<line x1="1868.4" y1="576.0" x2="1924.6" y2="576.0" stroke="#0000ff" stroke-width="4" stroke-linecap="round"/>
<text transform="translate(1931.0,585.9) scale(0.87,1)" text-anchor="start" font-family='"Liberation Serif", "DejaVu Serif", serif' font-weight="bold" font-size="30" fill="#000">4%</text>
<line x1="1868.4" y1="610.9" x2="1924.6" y2="610.9" stroke="#00ffff" stroke-width="4" stroke-linecap="round"/>
<text transform="translate(1931.0,620.8) scale(0.87,1)" text-anchor="start" font-family='"Liberation Serif", "DejaVu Serif", serif' font-weight="bold" font-size="30" fill="#000">5%</text>
<line x1="1868.4" y1="645.8" x2="1924.6" y2="645.8" stroke="#ff00ff" stroke-width="4" stroke-linecap="round"/>
<text transform="translate(1931.0,655.7) scale(0.87,1)" text-anchor="start" font-family='"Liberation Serif", "DejaVu Serif", serif' font-weight="bold" font-size="30" fill="#000">6%</text>
<line x1="1868.4" y1="680.7" x2="1924.6" y2="680.7" stroke="#ff8000" stroke-width="4" stroke-linecap="round"/>
<text transform="translate(1931.0,690.6) scale(0.87,1)" text-anchor="start" font-family='"Liberation Serif", "DejaVu Serif", serif' font-weight="bold" font-size="30" fill="#000">7%</text>
<line x1="1868.4" y1="715.6" x2="1924.6" y2="715.6" stroke="#808000" stroke-width="4" stroke-linecap="round"/>
<text transform="translate(1931.0,725.5) scale(0.87,1)" text-anchor="start" font-family='"Liberation Serif", "DejaVu Serif", serif' font-weight="bold" font-size="30" fill="#000">8%</text>
</svg>
</body></html>
